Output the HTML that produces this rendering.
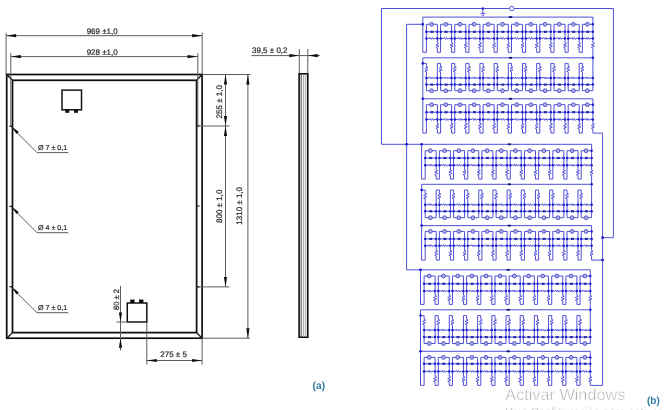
<!DOCTYPE html>
<html><head><meta charset="utf-8"><title>Figure</title>
<style>
html,body{margin:0;padding:0;background:#fff;}
body{width:665px;height:410px;overflow:hidden;font-family:"Liberation Sans",sans-serif;}
svg{display:block;font-family:"Liberation Sans",sans-serif;}
text{text-rendering:geometricPrecision;}
.d text{stroke:#2c2c2c;stroke-width:0.22px;}
</style></head><body>
<svg width="665" height="410" viewBox="0 0 665 410">
<defs><filter id="bl" x="0" y="0" width="665" height="410" filterUnits="userSpaceOnUse"><feGaussianBlur stdDeviation="0.45"/></filter><filter id="bl2" x="0" y="0" width="665" height="410" filterUnits="userSpaceOnUse"><feGaussianBlur stdDeviation="0.35"/></filter></defs>
<rect width="665" height="410" fill="#fff"/>
<g id="left" class="d" filter="url(#bl2)">
<rect x="6.7" y="74.5" width="195.4" height="263.7" fill="none" stroke="#0c0c0c" stroke-width="1.7"/>
<rect x="12.5" y="80.3" width="184.1" height="252.3" fill="none" stroke="#0c0c0c" stroke-width="1.7"/>
<line x1="6.7" y1="74.5" x2="12.5" y2="80.3" stroke="#0c0c0c" stroke-width="1.3"/>
<line x1="202.1" y1="74.5" x2="196.6" y2="80.3" stroke="#0c0c0c" stroke-width="1.3"/>
<line x1="6.7" y1="338.2" x2="12.5" y2="332.6" stroke="#0c0c0c" stroke-width="1.3"/>
<line x1="202.1" y1="338.2" x2="196.6" y2="332.6" stroke="#0c0c0c" stroke-width="1.3"/>
<line x1="6.1" y1="32.7" x2="6.1" y2="74.5" stroke="#5c5c5c" stroke-width="1"/>
<line x1="202.2" y1="32.7" x2="202.2" y2="74.5" stroke="#5c5c5c" stroke-width="1"/>
<line x1="6.1" y1="35.7" x2="202.2" y2="35.7" stroke="#5c5c5c" stroke-width="1"/>
<polygon points="6.1,35.7 16.1,34.1 16.1,37.3" fill="#111"/>
<polygon points="202.2,35.7 192.2,37.3 192.2,34.1" fill="#111"/>
<line x1="10.8" y1="53.2" x2="10.8" y2="126" stroke="#5c5c5c" stroke-width="1"/>
<line x1="197.8" y1="53.2" x2="197.8" y2="126" stroke="#5c5c5c" stroke-width="1"/>
<line x1="10.9" y1="56.6" x2="197.6" y2="56.6" stroke="#5c5c5c" stroke-width="1"/>
<polygon points="10.9,56.6 20.9,55 20.9,58.2" fill="#111"/>
<polygon points="197.6,56.6 187.6,58.2 187.6,55" fill="#111"/>
<text x="102.2" y="33.7" font-size="8" text-anchor="middle" fill="#2c2c2c" font-weight="normal">969 ±1,0</text>
<text x="102.2" y="54.5" font-size="8" text-anchor="middle" fill="#2c2c2c" font-weight="normal">928 ±1,0</text>
<line x1="202.2" y1="74.5" x2="250.3" y2="74.5" stroke="#5c5c5c" stroke-width="1"/>
<line x1="196.6" y1="126" x2="229.5" y2="126" stroke="#5c5c5c" stroke-width="1"/>
<line x1="196.6" y1="286.9" x2="229.5" y2="286.9" stroke="#5c5c5c" stroke-width="1"/>
<line x1="202.2" y1="338.2" x2="250" y2="338.2" stroke="#5c5c5c" stroke-width="1"/>
<line x1="225.5" y1="74.5" x2="225.5" y2="286.9" stroke="#5c5c5c" stroke-width="1"/>
<polygon points="225.5,74.5 227.1,84.5 223.9,84.5" fill="#111"/>
<polygon points="225.5,126 223.9,116 227.1,116" fill="#111"/>
<polygon points="225.5,126 227.1,136 223.9,136" fill="#111"/>
<polygon points="225.5,286.9 223.9,276.9 227.1,276.9" fill="#111"/>
<line x1="247.9" y1="74.5" x2="247.9" y2="338.2" stroke="#5c5c5c" stroke-width="1"/>
<polygon points="247.9,74.5 249.5,84.5 246.3,84.5" fill="#111"/>
<polygon points="247.9,338.2 246.3,328.2 249.5,328.2" fill="#111"/>
<text x="221.6" y="101.8" font-size="8" text-anchor="middle" fill="#2c2c2c" font-weight="normal" transform="rotate(-90 221.6 101.8)">255 ± 1,0</text>
<text x="222" y="206.3" font-size="8" text-anchor="middle" fill="#2c2c2c" font-weight="normal" transform="rotate(-90 222 206.3)">800 ± 1,0</text>
<text x="242.4" y="205.8" font-size="8" text-anchor="middle" fill="#2c2c2c" font-weight="normal" transform="rotate(-90 242.4 205.8)">1310 ± 1,0</text>
<rect x="299.1" y="73.8" width="8.7" height="263.4" fill="#f0f0f0" stroke="#0c0c0c" stroke-width="1.6"/>
<line x1="301.2" y1="74" x2="301.2" y2="337" stroke="#444" stroke-width="0.9"/>
<line x1="303.6" y1="74" x2="303.6" y2="337" stroke="#9a9a9a" stroke-width="0.8"/>
<line x1="305.8" y1="74" x2="305.8" y2="337" stroke="#9a9a9a" stroke-width="0.8"/>
<line x1="299.3" y1="49" x2="299.3" y2="73.5" stroke="#5c5c5c" stroke-width="1"/>
<line x1="307.8" y1="49" x2="307.8" y2="73.5" stroke="#5c5c5c" stroke-width="1"/>
<line x1="251.4" y1="55.6" x2="320.2" y2="55.6" stroke="#5c5c5c" stroke-width="1"/>
<polygon points="299.3,55.6 289.3,57.2 289.3,54" fill="#111"/>
<polygon points="307.8,55.6 317.8,54 317.8,57.2" fill="#111"/>
<text x="252" y="53.4" font-size="8" text-anchor="start" fill="#2c2c2c" font-weight="normal">39,5 ± 0,2</text>
<rect x="62" y="90.1" width="19.5" height="19.7" fill="#fff" stroke="#0c0c0c" stroke-width="1.45"/>
<rect x="65.3" y="109.8" width="3.9" height="3" fill="#0c0c0c"/>
<rect x="74.1" y="109.8" width="3.9" height="3" fill="#0c0c0c"/>
<rect x="127.3" y="303" width="19.5" height="19" fill="#fff" stroke="#0c0c0c" stroke-width="1.45"/>
<rect x="130.2" y="299.6" width="4.4" height="3.4" fill="#0c0c0c"/>
<rect x="139" y="299.6" width="4.4" height="3.4" fill="#0c0c0c"/>
<polyline points="10.7,126.2 37,152.6 68.3,152.6" fill="none" stroke="#5c5c5c" stroke-width="1"/>
<polygon points="11,126.2 18.77,131.87 16.64,133.99" fill="#111"/>
<line x1="9.2" y1="126.2" x2="12.5" y2="126.2" stroke="#0c0c0c" stroke-width="1"/>
<text x="38" y="149.6" font-size="7.1" text-anchor="start" fill="#2c2c2c" font-weight="normal">Ø 7 ± 0,1</text>
<polyline points="10.7,206.3 37,232.7 68.3,232.7" fill="none" stroke="#5c5c5c" stroke-width="1"/>
<polygon points="11,206.3 18.77,211.97 16.64,214.09" fill="#111"/>
<line x1="9.2" y1="206.3" x2="12.5" y2="206.3" stroke="#0c0c0c" stroke-width="1"/>
<text x="38" y="229.7" font-size="7.1" text-anchor="start" fill="#2c2c2c" font-weight="normal">Ø 4 ± 0,1</text>
<polyline points="10.7,286.7 37,312.7 68.3,312.7" fill="none" stroke="#5c5c5c" stroke-width="1"/>
<polygon points="11,286.7 18.81,292.31 16.7,294.45" fill="#111"/>
<line x1="9.2" y1="286.7" x2="12.5" y2="286.7" stroke="#0c0c0c" stroke-width="1"/>
<text x="38" y="310" font-size="7.1" text-anchor="start" fill="#2c2c2c" font-weight="normal">Ø 7 ± 0,1</text>
<line x1="196.6" y1="126" x2="199.5" y2="126" stroke="#0c0c0c" stroke-width="1"/>
<line x1="196.6" y1="206" x2="199.5" y2="206" stroke="#0c0c0c" stroke-width="1"/>
<line x1="196.6" y1="286.9" x2="199.5" y2="286.9" stroke="#0c0c0c" stroke-width="1"/>
<line x1="120.5" y1="285.9" x2="120.5" y2="350.2" stroke="#5c5c5c" stroke-width="1"/>
<polygon points="120.5,321.9 118.9,312.4 122.1,312.4" fill="#111"/>
<polygon points="120.5,338.3 122.1,347.8 118.9,347.8" fill="#111"/>
<line x1="116.6" y1="322" x2="127.3" y2="322" stroke="#5c5c5c" stroke-width="1"/>
<text x="118.5" y="299.5" font-size="7.6" text-anchor="middle" fill="#2c2c2c" font-weight="normal" transform="rotate(-90 118.5 299.5)">80 ± 2</text>
<line x1="146.8" y1="322" x2="146.8" y2="364.5" stroke="#5c5c5c" stroke-width="1"/>
<line x1="202.1" y1="338.2" x2="202.1" y2="364.5" stroke="#5c5c5c" stroke-width="1"/>
<line x1="146.8" y1="360.5" x2="202.1" y2="360.5" stroke="#5c5c5c" stroke-width="1"/>
<polygon points="146.8,360.5 156.8,358.9 156.8,362.1" fill="#111"/>
<polygon points="202.1,360.5 192.1,362.1 192.1,358.9" fill="#111"/>
<text x="173.6" y="357.3" font-size="8" text-anchor="middle" fill="#2c2c2c" font-weight="normal">275 ± 5</text>
<text x="312.6" y="389" font-size="10.5" text-anchor="start" fill="#2e7fa3" font-weight="bold" textLength="12.5" lengthAdjust="spacingAndGlyphs" style="stroke:none">(a)</text>
<text x="647" y="404.3" font-size="10.5" text-anchor="start" fill="#2e7fa3" font-weight="bold" textLength="12.8" lengthAdjust="spacingAndGlyphs" style="stroke:none">(b)</text>
<text x="505.3" y="400.3" font-size="16" text-anchor="start" fill="#a9a9b0" font-weight="normal" textLength="120" lengthAdjust="spacingAndGlyphs" style="stroke:#fff;stroke-width:0.5px">Activar Windows</text>
<text x="505.3" y="415.8" font-size="12" text-anchor="start" fill="#b0b0b6" font-weight="normal" textLength="208" lengthAdjust="spacingAndGlyphs" style="stroke:#fff;stroke-width:0.35px">Ve a Configuración para activar Windows.</text>
</g>
<g id="circuit" filter="url(#bl)">
<g fill="none" stroke="#5050d6" stroke-width="1" stroke-linejoin="miter">
<polyline points="422.8,17.1 592.9,17.1" />
<polyline points="422.8,17.1 422.8,52.3 426.4,52.3 426.4,24.3 437.4,24.3 437.4,42.9 438.9,43.57 435.9,44.92 438.9,46.27 435.9,47.62 437.4,48.3 437.4,52.3 440.58,52.3 440.58,24.3 451.58,24.3 451.58,42.9 453.08,43.57 450.08,44.92 453.08,46.27 450.08,47.62 451.58,48.3 451.58,52.3 454.76,52.3 454.76,24.3 465.76,24.3 465.76,42.9 467.26,43.57 464.26,44.92 467.26,46.27 464.26,47.62 465.76,48.3 465.76,52.3 468.94,52.3 468.94,24.3 479.94,24.3 479.94,42.9 481.44,43.57 478.44,44.92 481.44,46.27 478.44,47.62 479.94,48.3 479.94,52.3 483.12,52.3 483.12,24.3 494.12,24.3 494.12,42.9 495.62,43.57 492.62,44.92 495.62,46.27 492.62,47.62 494.12,48.3 494.12,52.3 497.3,52.3 497.3,24.3 508.3,24.3 508.3,42.9 509.8,43.57 506.8,44.92 509.8,46.27 506.8,47.62 508.3,48.3 508.3,52.3 511.48,52.3 511.48,24.3 522.48,24.3 522.48,42.9 523.98,43.57 520.98,44.92 523.98,46.27 520.98,47.62 522.48,48.3 522.48,52.3 525.66,52.3 525.66,24.3 536.66,24.3 536.66,42.9 538.16,43.57 535.16,44.92 538.16,46.27 535.16,47.62 536.66,48.3 536.66,52.3 539.84,52.3 539.84,24.3 550.84,24.3 550.84,42.9 552.34,43.57 549.34,44.92 552.34,46.27 549.34,47.62 550.84,48.3 550.84,52.3 554.02,52.3 554.02,24.3 565.02,24.3 565.02,42.9 566.52,43.57 563.52,44.92 566.52,46.27 563.52,47.62 565.02,48.3 565.02,52.3 568.2,52.3 568.2,24.3 579.2,24.3 579.2,42.9 580.7,43.57 577.7,44.92 580.7,46.27 577.7,47.62 579.2,48.3 579.2,52.3 582.38,52.3 582.38,24.3 592.9,24.3 592.9,42.9 594.4,43.57 591.4,44.92 594.4,46.27 591.4,47.62 592.9,48.3 592.9,52.3" />
<polyline points="426.4,31.8 437.4,31.8" />
<polyline points="426.4,38.4 429.6,38.4 430.18,37.4 431.33,39.4 432.48,37.4 433.62,39.4 434.2,38.4 437.4,38.4" />
<polyline points="440.58,31.8 451.58,31.8" />
<polyline points="440.58,38.4 443.78,38.4 444.36,37.4 445.51,39.4 446.66,37.4 447.81,39.4 448.38,38.4 451.58,38.4" />
<polyline points="454.76,31.8 465.76,31.8" />
<polyline points="454.76,38.4 457.96,38.4 458.54,37.4 459.69,39.4 460.84,37.4 461.99,39.4 462.56,38.4 465.76,38.4" />
<polyline points="468.94,31.8 479.94,31.8" />
<polyline points="468.94,38.4 472.14,38.4 472.72,37.4 473.87,39.4 475.02,37.4 476.17,39.4 476.74,38.4 479.94,38.4" />
<polyline points="483.12,31.8 494.12,31.8" />
<polyline points="483.12,38.4 486.32,38.4 486.89,37.4 488.05,39.4 489.19,37.4 490.34,39.4 490.92,38.4 494.12,38.4" />
<polyline points="497.3,31.8 508.3,31.8" />
<polyline points="497.3,38.4 500.5,38.4 501.08,37.4 502.23,39.4 503.38,37.4 504.53,39.4 505.1,38.4 508.3,38.4" />
<polyline points="511.48,31.8 522.48,31.8" />
<polyline points="511.48,38.4 514.68,38.4 515.26,37.4 516.41,39.4 517.56,37.4 518.71,39.4 519.28,38.4 522.48,38.4" />
<polyline points="525.66,31.8 536.66,31.8" />
<polyline points="525.66,38.4 528.86,38.4 529.44,37.4 530.59,39.4 531.74,37.4 532.89,39.4 533.46,38.4 536.66,38.4" />
<polyline points="539.84,31.8 550.84,31.8" />
<polyline points="539.84,38.4 543.04,38.4 543.62,37.4 544.77,39.4 545.92,37.4 547.07,39.4 547.64,38.4 550.84,38.4" />
<polyline points="554.02,31.8 565.02,31.8" />
<polyline points="554.02,38.4 557.22,38.4 557.8,37.4 558.95,39.4 560.1,37.4 561.25,39.4 561.82,38.4 565.02,38.4" />
<polyline points="568.2,31.8 579.2,31.8" />
<polyline points="568.2,38.4 571.4,38.4 571.98,37.4 573.13,39.4 574.28,37.4 575.43,39.4 576,38.4 579.2,38.4" />
<polyline points="582.38,31.8 592.9,31.8" />
<polyline points="582.38,38.4 585.34,38.4 585.92,37.4 587.07,39.4 588.22,37.4 589.37,39.4 589.94,38.4 592.9,38.4" />
<polyline points="422.8,57.8 592.9,57.8" />
<polyline points="422.8,63.4 426.4,63.4 426.4,66.4 427.9,67.07 424.9,68.42 427.9,69.77 424.9,71.12 426.4,71.8 426.4,90.7 437.4,90.7 437.4,63.4 440.58,63.4 440.58,66.4 442.08,67.07 439.08,68.42 442.08,69.77 439.08,71.12 440.58,71.8 440.58,90.7 451.58,90.7 451.58,63.4 454.76,63.4 454.76,66.4 456.26,67.07 453.26,68.42 456.26,69.77 453.26,71.12 454.76,71.8 454.76,90.7 465.76,90.7 465.76,63.4 468.94,63.4 468.94,66.4 470.44,67.07 467.44,68.42 470.44,69.77 467.44,71.12 468.94,71.8 468.94,90.7 479.94,90.7 479.94,63.4 483.12,63.4 483.12,66.4 484.62,67.07 481.62,68.42 484.62,69.77 481.62,71.12 483.12,71.8 483.12,90.7 494.12,90.7 494.12,63.4 497.3,63.4 497.3,66.4 498.8,67.07 495.8,68.42 498.8,69.77 495.8,71.12 497.3,71.8 497.3,90.7 508.3,90.7 508.3,63.4 511.48,63.4 511.48,66.4 512.98,67.07 509.98,68.42 512.98,69.77 509.98,71.12 511.48,71.8 511.48,90.7 522.48,90.7 522.48,63.4 525.66,63.4 525.66,66.4 527.16,67.07 524.16,68.42 527.16,69.77 524.16,71.12 525.66,71.8 525.66,90.7 536.66,90.7 536.66,63.4 539.84,63.4 539.84,66.4 541.34,67.07 538.34,68.42 541.34,69.77 538.34,71.12 539.84,71.8 539.84,90.7 550.84,90.7 550.84,63.4 554.02,63.4 554.02,66.4 555.52,67.07 552.52,68.42 555.52,69.77 552.52,71.12 554.02,71.8 554.02,90.7 565.02,90.7 565.02,63.4 568.2,63.4 568.2,66.4 569.7,67.07 566.7,68.42 569.7,69.77 566.7,71.12 568.2,71.8 568.2,90.7 579.2,90.7 579.2,63.4 582.38,63.4 582.38,66.4 583.88,67.07 580.88,68.42 583.88,69.77 580.88,71.12 582.38,71.8 582.38,90.7 592.9,90.7" />
<polyline points="426.4,84.6 437.4,84.6" />
<polyline points="426.4,77.9 429.6,77.9 430.18,76.9 431.33,78.9 432.48,76.9 433.62,78.9 434.2,77.9 437.4,77.9" />
<polyline points="440.58,84.6 451.58,84.6" />
<polyline points="440.58,77.9 443.78,77.9 444.36,76.9 445.51,78.9 446.66,76.9 447.81,78.9 448.38,77.9 451.58,77.9" />
<polyline points="454.76,84.6 465.76,84.6" />
<polyline points="454.76,77.9 457.96,77.9 458.54,76.9 459.69,78.9 460.84,76.9 461.99,78.9 462.56,77.9 465.76,77.9" />
<polyline points="468.94,84.6 479.94,84.6" />
<polyline points="468.94,77.9 472.14,77.9 472.72,76.9 473.87,78.9 475.02,76.9 476.17,78.9 476.74,77.9 479.94,77.9" />
<polyline points="483.12,84.6 494.12,84.6" />
<polyline points="483.12,77.9 486.32,77.9 486.89,76.9 488.05,78.9 489.19,76.9 490.34,78.9 490.92,77.9 494.12,77.9" />
<polyline points="497.3,84.6 508.3,84.6" />
<polyline points="497.3,77.9 500.5,77.9 501.08,76.9 502.23,78.9 503.38,76.9 504.53,78.9 505.1,77.9 508.3,77.9" />
<polyline points="511.48,84.6 522.48,84.6" />
<polyline points="511.48,77.9 514.68,77.9 515.26,76.9 516.41,78.9 517.56,76.9 518.71,78.9 519.28,77.9 522.48,77.9" />
<polyline points="525.66,84.6 536.66,84.6" />
<polyline points="525.66,77.9 528.86,77.9 529.44,76.9 530.59,78.9 531.74,76.9 532.89,78.9 533.46,77.9 536.66,77.9" />
<polyline points="539.84,84.6 550.84,84.6" />
<polyline points="539.84,77.9 543.04,77.9 543.62,76.9 544.77,78.9 545.92,76.9 547.07,78.9 547.64,77.9 550.84,77.9" />
<polyline points="554.02,84.6 565.02,84.6" />
<polyline points="554.02,77.9 557.22,77.9 557.8,76.9 558.95,78.9 560.1,76.9 561.25,78.9 561.82,77.9 565.02,77.9" />
<polyline points="568.2,84.6 579.2,84.6" />
<polyline points="568.2,77.9 571.4,77.9 571.98,76.9 573.13,78.9 574.28,76.9 575.43,78.9 576,77.9 579.2,77.9" />
<polyline points="582.38,84.6 592.9,84.6" />
<polyline points="582.38,77.9 585.34,77.9 585.92,76.9 587.07,78.9 588.22,76.9 589.37,78.9 589.94,77.9 592.9,77.9" />
<polyline points="422.8,98.8 592.9,98.8" />
<polyline points="422.8,98.8 422.8,133.1 426.4,133.1 426.4,104.7 437.4,104.7 437.4,123.5 438.9,124.17 435.9,125.53 438.9,126.88 435.9,128.22 437.4,128.9 437.4,133.1 440.58,133.1 440.58,104.7 451.58,104.7 451.58,123.5 453.08,124.17 450.08,125.53 453.08,126.88 450.08,128.22 451.58,128.9 451.58,133.1 454.76,133.1 454.76,104.7 465.76,104.7 465.76,123.5 467.26,124.17 464.26,125.53 467.26,126.88 464.26,128.22 465.76,128.9 465.76,133.1 468.94,133.1 468.94,104.7 479.94,104.7 479.94,123.5 481.44,124.17 478.44,125.53 481.44,126.88 478.44,128.22 479.94,128.9 479.94,133.1 483.12,133.1 483.12,104.7 494.12,104.7 494.12,123.5 495.62,124.17 492.62,125.53 495.62,126.88 492.62,128.22 494.12,128.9 494.12,133.1 497.3,133.1 497.3,104.7 508.3,104.7 508.3,123.5 509.8,124.17 506.8,125.53 509.8,126.88 506.8,128.22 508.3,128.9 508.3,133.1 511.48,133.1 511.48,104.7 522.48,104.7 522.48,123.5 523.98,124.17 520.98,125.53 523.98,126.88 520.98,128.22 522.48,128.9 522.48,133.1 525.66,133.1 525.66,104.7 536.66,104.7 536.66,123.5 538.16,124.17 535.16,125.53 538.16,126.88 535.16,128.22 536.66,128.9 536.66,133.1 539.84,133.1 539.84,104.7 550.84,104.7 550.84,123.5 552.34,124.17 549.34,125.53 552.34,126.88 549.34,128.22 550.84,128.9 550.84,133.1 554.02,133.1 554.02,104.7 565.02,104.7 565.02,123.5 566.52,124.17 563.52,125.53 566.52,126.88 563.52,128.22 565.02,128.9 565.02,133.1 568.2,133.1 568.2,104.7 579.2,104.7 579.2,123.5 580.7,124.17 577.7,125.53 580.7,126.88 577.7,128.22 579.2,128.9 579.2,133.1 582.38,133.1 582.38,104.7 592.9,104.7 592.9,123.5 594.4,124.17 591.4,125.53 594.4,126.88 591.4,128.22 592.9,128.9 592.9,133.1" />
<polyline points="426.4,112.2 437.4,112.2" />
<polyline points="426.4,119.4 429.6,119.4 430.18,118.4 431.33,120.4 432.48,118.4 433.62,120.4 434.2,119.4 437.4,119.4" />
<polyline points="440.58,112.2 451.58,112.2" />
<polyline points="440.58,119.4 443.78,119.4 444.36,118.4 445.51,120.4 446.66,118.4 447.81,120.4 448.38,119.4 451.58,119.4" />
<polyline points="454.76,112.2 465.76,112.2" />
<polyline points="454.76,119.4 457.96,119.4 458.54,118.4 459.69,120.4 460.84,118.4 461.99,120.4 462.56,119.4 465.76,119.4" />
<polyline points="468.94,112.2 479.94,112.2" />
<polyline points="468.94,119.4 472.14,119.4 472.72,118.4 473.87,120.4 475.02,118.4 476.17,120.4 476.74,119.4 479.94,119.4" />
<polyline points="483.12,112.2 494.12,112.2" />
<polyline points="483.12,119.4 486.32,119.4 486.89,118.4 488.05,120.4 489.19,118.4 490.34,120.4 490.92,119.4 494.12,119.4" />
<polyline points="497.3,112.2 508.3,112.2" />
<polyline points="497.3,119.4 500.5,119.4 501.08,118.4 502.23,120.4 503.38,118.4 504.53,120.4 505.1,119.4 508.3,119.4" />
<polyline points="511.48,112.2 522.48,112.2" />
<polyline points="511.48,119.4 514.68,119.4 515.26,118.4 516.41,120.4 517.56,118.4 518.71,120.4 519.28,119.4 522.48,119.4" />
<polyline points="525.66,112.2 536.66,112.2" />
<polyline points="525.66,119.4 528.86,119.4 529.44,118.4 530.59,120.4 531.74,118.4 532.89,120.4 533.46,119.4 536.66,119.4" />
<polyline points="539.84,112.2 550.84,112.2" />
<polyline points="539.84,119.4 543.04,119.4 543.62,118.4 544.77,120.4 545.92,118.4 547.07,120.4 547.64,119.4 550.84,119.4" />
<polyline points="554.02,112.2 565.02,112.2" />
<polyline points="554.02,119.4 557.22,119.4 557.8,118.4 558.95,120.4 560.1,118.4 561.25,120.4 561.82,119.4 565.02,119.4" />
<polyline points="568.2,112.2 579.2,112.2" />
<polyline points="568.2,119.4 571.4,119.4 571.98,118.4 573.13,120.4 574.28,118.4 575.43,120.4 576,119.4 579.2,119.4" />
<polyline points="582.38,112.2 592.9,112.2" />
<polyline points="582.38,119.4 585.34,119.4 585.92,118.4 587.07,120.4 588.22,118.4 589.37,120.4 589.94,119.4 592.9,119.4" />
<polyline points="422.8,57.8 422.8,98.8" />
<polyline points="592.9,17.1 592.9,24.3" />
<polyline points="592.9,52.3 592.9,90.7" />
<polyline points="592.9,98.8 592.9,104.7" />
<polyline points="421.6,144.3 591.6,144.3" />
<polyline points="421.6,144.3 421.6,179.1 425.2,179.1 425.2,150.7 436.2,150.7 436.2,170 437.7,170.68 434.7,172.03 437.7,173.38 434.7,174.72 436.2,175.4 436.2,179.1 439.38,179.1 439.38,150.7 450.38,150.7 450.38,170 451.88,170.68 448.88,172.03 451.88,173.38 448.88,174.72 450.38,175.4 450.38,179.1 453.56,179.1 453.56,150.7 464.56,150.7 464.56,170 466.06,170.68 463.06,172.03 466.06,173.38 463.06,174.72 464.56,175.4 464.56,179.1 467.74,179.1 467.74,150.7 478.74,150.7 478.74,170 480.24,170.68 477.24,172.03 480.24,173.38 477.24,174.72 478.74,175.4 478.74,179.1 481.92,179.1 481.92,150.7 492.92,150.7 492.92,170 494.42,170.68 491.42,172.03 494.42,173.38 491.42,174.72 492.92,175.4 492.92,179.1 496.1,179.1 496.1,150.7 507.1,150.7 507.1,170 508.6,170.68 505.6,172.03 508.6,173.38 505.6,174.72 507.1,175.4 507.1,179.1 510.28,179.1 510.28,150.7 521.28,150.7 521.28,170 522.78,170.68 519.78,172.03 522.78,173.38 519.78,174.72 521.28,175.4 521.28,179.1 524.46,179.1 524.46,150.7 535.46,150.7 535.46,170 536.96,170.68 533.96,172.03 536.96,173.38 533.96,174.72 535.46,175.4 535.46,179.1 538.64,179.1 538.64,150.7 549.64,150.7 549.64,170 551.14,170.68 548.14,172.03 551.14,173.38 548.14,174.72 549.64,175.4 549.64,179.1 552.82,179.1 552.82,150.7 563.82,150.7 563.82,170 565.32,170.68 562.32,172.03 565.32,173.38 562.32,174.72 563.82,175.4 563.82,179.1 567,179.1 567,150.7 578,150.7 578,170 579.5,170.68 576.5,172.03 579.5,173.38 576.5,174.72 578,175.4 578,179.1 581.18,179.1 581.18,150.7 591.6,150.7 591.6,170 593.1,170.68 590.1,172.03 593.1,173.38 590.1,174.72 591.6,175.4 591.6,179.1" />
<polyline points="425.2,158 436.2,158" />
<polyline points="425.2,165.2 428.4,165.2 428.98,164.2 430.13,166.2 431.28,164.2 432.43,166.2 433,165.2 436.2,165.2" />
<polyline points="439.38,158 450.38,158" />
<polyline points="439.38,165.2 442.58,165.2 443.16,164.2 444.31,166.2 445.46,164.2 446.61,166.2 447.18,165.2 450.38,165.2" />
<polyline points="453.56,158 464.56,158" />
<polyline points="453.56,165.2 456.76,165.2 457.34,164.2 458.49,166.2 459.64,164.2 460.79,166.2 461.36,165.2 464.56,165.2" />
<polyline points="467.74,158 478.74,158" />
<polyline points="467.74,165.2 470.94,165.2 471.52,164.2 472.67,166.2 473.82,164.2 474.97,166.2 475.54,165.2 478.74,165.2" />
<polyline points="481.92,158 492.92,158" />
<polyline points="481.92,165.2 485.12,165.2 485.7,164.2 486.85,166.2 488,164.2 489.15,166.2 489.72,165.2 492.92,165.2" />
<polyline points="496.1,158 507.1,158" />
<polyline points="496.1,165.2 499.3,165.2 499.88,164.2 501.03,166.2 502.18,164.2 503.32,166.2 503.9,165.2 507.1,165.2" />
<polyline points="510.28,158 521.28,158" />
<polyline points="510.28,165.2 513.48,165.2 514.06,164.2 515.21,166.2 516.36,164.2 517.5,166.2 518.08,165.2 521.28,165.2" />
<polyline points="524.46,158 535.46,158" />
<polyline points="524.46,165.2 527.66,165.2 528.24,164.2 529.39,166.2 530.54,164.2 531.69,166.2 532.26,165.2 535.46,165.2" />
<polyline points="538.64,158 549.64,158" />
<polyline points="538.64,165.2 541.84,165.2 542.42,164.2 543.57,166.2 544.72,164.2 545.87,166.2 546.44,165.2 549.64,165.2" />
<polyline points="552.82,158 563.82,158" />
<polyline points="552.82,165.2 556.02,165.2 556.6,164.2 557.75,166.2 558.9,164.2 560.05,166.2 560.62,165.2 563.82,165.2" />
<polyline points="567,158 578,158" />
<polyline points="567,165.2 570.2,165.2 570.78,164.2 571.93,166.2 573.08,164.2 574.23,166.2 574.8,165.2 578,165.2" />
<polyline points="581.18,158 591.6,158" />
<polyline points="581.18,165.2 584.09,165.2 584.67,164.2 585.82,166.2 586.97,164.2 588.12,166.2 588.69,165.2 591.6,165.2" />
<polyline points="421.6,184.3 591.6,184.3" />
<polyline points="421.6,190 425.2,190 425.2,193.4 426.7,194.08 423.7,195.43 426.7,196.78 423.7,198.12 425.2,198.8 425.2,217.7 436.2,217.7 436.2,190 439.38,190 439.38,193.4 440.88,194.08 437.88,195.43 440.88,196.78 437.88,198.12 439.38,198.8 439.38,217.7 450.38,217.7 450.38,190 453.56,190 453.56,193.4 455.06,194.08 452.06,195.43 455.06,196.78 452.06,198.12 453.56,198.8 453.56,217.7 464.56,217.7 464.56,190 467.74,190 467.74,193.4 469.24,194.08 466.24,195.43 469.24,196.78 466.24,198.12 467.74,198.8 467.74,217.7 478.74,217.7 478.74,190 481.92,190 481.92,193.4 483.42,194.08 480.42,195.43 483.42,196.78 480.42,198.12 481.92,198.8 481.92,217.7 492.92,217.7 492.92,190 496.1,190 496.1,193.4 497.6,194.08 494.6,195.43 497.6,196.78 494.6,198.12 496.1,198.8 496.1,217.7 507.1,217.7 507.1,190 510.28,190 510.28,193.4 511.78,194.08 508.78,195.43 511.78,196.78 508.78,198.12 510.28,198.8 510.28,217.7 521.28,217.7 521.28,190 524.46,190 524.46,193.4 525.96,194.08 522.96,195.43 525.96,196.78 522.96,198.12 524.46,198.8 524.46,217.7 535.46,217.7 535.46,190 538.64,190 538.64,193.4 540.14,194.08 537.14,195.43 540.14,196.78 537.14,198.12 538.64,198.8 538.64,217.7 549.64,217.7 549.64,190 552.82,190 552.82,193.4 554.32,194.08 551.32,195.43 554.32,196.78 551.32,198.12 552.82,198.8 552.82,217.7 563.82,217.7 563.82,190 567,190 567,193.4 568.5,194.08 565.5,195.43 568.5,196.78 565.5,198.12 567,198.8 567,217.7 578,217.7 578,190 581.18,190 581.18,193.4 582.68,194.08 579.68,195.43 582.68,196.78 579.68,198.12 581.18,198.8 581.18,217.7 591.6,217.7" />
<polyline points="425.2,211.3 436.2,211.3" />
<polyline points="425.2,204.7 428.4,204.7 428.98,203.7 430.13,205.7 431.28,203.7 432.43,205.7 433,204.7 436.2,204.7" />
<polyline points="439.38,211.3 450.38,211.3" />
<polyline points="439.38,204.7 442.58,204.7 443.16,203.7 444.31,205.7 445.46,203.7 446.61,205.7 447.18,204.7 450.38,204.7" />
<polyline points="453.56,211.3 464.56,211.3" />
<polyline points="453.56,204.7 456.76,204.7 457.34,203.7 458.49,205.7 459.64,203.7 460.79,205.7 461.36,204.7 464.56,204.7" />
<polyline points="467.74,211.3 478.74,211.3" />
<polyline points="467.74,204.7 470.94,204.7 471.52,203.7 472.67,205.7 473.82,203.7 474.97,205.7 475.54,204.7 478.74,204.7" />
<polyline points="481.92,211.3 492.92,211.3" />
<polyline points="481.92,204.7 485.12,204.7 485.7,203.7 486.85,205.7 488,203.7 489.15,205.7 489.72,204.7 492.92,204.7" />
<polyline points="496.1,211.3 507.1,211.3" />
<polyline points="496.1,204.7 499.3,204.7 499.88,203.7 501.03,205.7 502.18,203.7 503.32,205.7 503.9,204.7 507.1,204.7" />
<polyline points="510.28,211.3 521.28,211.3" />
<polyline points="510.28,204.7 513.48,204.7 514.06,203.7 515.21,205.7 516.36,203.7 517.5,205.7 518.08,204.7 521.28,204.7" />
<polyline points="524.46,211.3 535.46,211.3" />
<polyline points="524.46,204.7 527.66,204.7 528.24,203.7 529.39,205.7 530.54,203.7 531.69,205.7 532.26,204.7 535.46,204.7" />
<polyline points="538.64,211.3 549.64,211.3" />
<polyline points="538.64,204.7 541.84,204.7 542.42,203.7 543.57,205.7 544.72,203.7 545.87,205.7 546.44,204.7 549.64,204.7" />
<polyline points="552.82,211.3 563.82,211.3" />
<polyline points="552.82,204.7 556.02,204.7 556.6,203.7 557.75,205.7 558.9,203.7 560.05,205.7 560.62,204.7 563.82,204.7" />
<polyline points="567,211.3 578,211.3" />
<polyline points="567,204.7 570.2,204.7 570.78,203.7 571.93,205.7 573.08,203.7 574.23,205.7 574.8,204.7 578,204.7" />
<polyline points="581.18,211.3 591.6,211.3" />
<polyline points="581.18,204.7 584.09,204.7 584.67,203.7 585.82,205.7 586.97,203.7 588.12,205.7 588.69,204.7 591.6,204.7" />
<polyline points="421.6,225.6 591.6,225.6" />
<polyline points="421.6,225.6 421.6,260.1 425.2,260.1 425.2,231.4 436.2,231.4 436.2,250.5 437.7,251.18 434.7,252.53 437.7,253.88 434.7,255.22 436.2,255.9 436.2,260.1 439.38,260.1 439.38,231.4 450.38,231.4 450.38,250.5 451.88,251.18 448.88,252.53 451.88,253.88 448.88,255.22 450.38,255.9 450.38,260.1 453.56,260.1 453.56,231.4 464.56,231.4 464.56,250.5 466.06,251.18 463.06,252.53 466.06,253.88 463.06,255.22 464.56,255.9 464.56,260.1 467.74,260.1 467.74,231.4 478.74,231.4 478.74,250.5 480.24,251.18 477.24,252.53 480.24,253.88 477.24,255.22 478.74,255.9 478.74,260.1 481.92,260.1 481.92,231.4 492.92,231.4 492.92,250.5 494.42,251.18 491.42,252.53 494.42,253.88 491.42,255.22 492.92,255.9 492.92,260.1 496.1,260.1 496.1,231.4 507.1,231.4 507.1,250.5 508.6,251.18 505.6,252.53 508.6,253.88 505.6,255.22 507.1,255.9 507.1,260.1 510.28,260.1 510.28,231.4 521.28,231.4 521.28,250.5 522.78,251.18 519.78,252.53 522.78,253.88 519.78,255.22 521.28,255.9 521.28,260.1 524.46,260.1 524.46,231.4 535.46,231.4 535.46,250.5 536.96,251.18 533.96,252.53 536.96,253.88 533.96,255.22 535.46,255.9 535.46,260.1 538.64,260.1 538.64,231.4 549.64,231.4 549.64,250.5 551.14,251.18 548.14,252.53 551.14,253.88 548.14,255.22 549.64,255.9 549.64,260.1 552.82,260.1 552.82,231.4 563.82,231.4 563.82,250.5 565.32,251.18 562.32,252.53 565.32,253.88 562.32,255.22 563.82,255.9 563.82,260.1 567,260.1 567,231.4 578,231.4 578,250.5 579.5,251.18 576.5,252.53 579.5,253.88 576.5,255.22 578,255.9 578,260.1 581.18,260.1 581.18,231.4 591.6,231.4 591.6,250.5 593.1,251.18 590.1,252.53 593.1,253.88 590.1,255.22 591.6,255.9 591.6,260.1" />
<polyline points="425.2,238.9 436.2,238.9" />
<polyline points="425.2,245.7 428.4,245.7 428.98,244.7 430.13,246.7 431.28,244.7 432.43,246.7 433,245.7 436.2,245.7" />
<polyline points="439.38,238.9 450.38,238.9" />
<polyline points="439.38,245.7 442.58,245.7 443.16,244.7 444.31,246.7 445.46,244.7 446.61,246.7 447.18,245.7 450.38,245.7" />
<polyline points="453.56,238.9 464.56,238.9" />
<polyline points="453.56,245.7 456.76,245.7 457.34,244.7 458.49,246.7 459.64,244.7 460.79,246.7 461.36,245.7 464.56,245.7" />
<polyline points="467.74,238.9 478.74,238.9" />
<polyline points="467.74,245.7 470.94,245.7 471.52,244.7 472.67,246.7 473.82,244.7 474.97,246.7 475.54,245.7 478.74,245.7" />
<polyline points="481.92,238.9 492.92,238.9" />
<polyline points="481.92,245.7 485.12,245.7 485.7,244.7 486.85,246.7 488,244.7 489.15,246.7 489.72,245.7 492.92,245.7" />
<polyline points="496.1,238.9 507.1,238.9" />
<polyline points="496.1,245.7 499.3,245.7 499.88,244.7 501.03,246.7 502.18,244.7 503.32,246.7 503.9,245.7 507.1,245.7" />
<polyline points="510.28,238.9 521.28,238.9" />
<polyline points="510.28,245.7 513.48,245.7 514.06,244.7 515.21,246.7 516.36,244.7 517.5,246.7 518.08,245.7 521.28,245.7" />
<polyline points="524.46,238.9 535.46,238.9" />
<polyline points="524.46,245.7 527.66,245.7 528.24,244.7 529.39,246.7 530.54,244.7 531.69,246.7 532.26,245.7 535.46,245.7" />
<polyline points="538.64,238.9 549.64,238.9" />
<polyline points="538.64,245.7 541.84,245.7 542.42,244.7 543.57,246.7 544.72,244.7 545.87,246.7 546.44,245.7 549.64,245.7" />
<polyline points="552.82,238.9 563.82,238.9" />
<polyline points="552.82,245.7 556.02,245.7 556.6,244.7 557.75,246.7 558.9,244.7 560.05,246.7 560.62,245.7 563.82,245.7" />
<polyline points="567,238.9 578,238.9" />
<polyline points="567,245.7 570.2,245.7 570.78,244.7 571.93,246.7 573.08,244.7 574.23,246.7 574.8,245.7 578,245.7" />
<polyline points="581.18,238.9 591.6,238.9" />
<polyline points="581.18,245.7 584.09,245.7 584.67,244.7 585.82,246.7 586.97,244.7 588.12,246.7 588.69,245.7 591.6,245.7" />
<polyline points="421.6,184.3 421.6,225.6" />
<polyline points="591.6,144.3 591.6,150.7" />
<polyline points="591.6,179.1 591.6,217.7" />
<polyline points="591.6,225.6 591.6,231.4" />
<polyline points="420.5,269.8 590.3,269.8" />
<polyline points="420.5,269.8 420.5,304.4 424.1,304.4 424.1,276 435.1,276 435.1,295.5 436.6,296.18 433.6,297.52 436.6,298.88 433.6,300.23 435.1,300.9 435.1,304.4 438.28,304.4 438.28,276 449.28,276 449.28,295.5 450.78,296.18 447.78,297.52 450.78,298.88 447.78,300.23 449.28,300.9 449.28,304.4 452.46,304.4 452.46,276 463.46,276 463.46,295.5 464.96,296.18 461.96,297.52 464.96,298.88 461.96,300.23 463.46,300.9 463.46,304.4 466.64,304.4 466.64,276 477.64,276 477.64,295.5 479.14,296.18 476.14,297.52 479.14,298.88 476.14,300.23 477.64,300.9 477.64,304.4 480.82,304.4 480.82,276 491.82,276 491.82,295.5 493.32,296.18 490.32,297.52 493.32,298.88 490.32,300.23 491.82,300.9 491.82,304.4 495,304.4 495,276 506,276 506,295.5 507.5,296.18 504.5,297.52 507.5,298.88 504.5,300.23 506,300.9 506,304.4 509.18,304.4 509.18,276 520.18,276 520.18,295.5 521.68,296.18 518.68,297.52 521.68,298.88 518.68,300.23 520.18,300.9 520.18,304.4 523.36,304.4 523.36,276 534.36,276 534.36,295.5 535.86,296.18 532.86,297.52 535.86,298.88 532.86,300.23 534.36,300.9 534.36,304.4 537.54,304.4 537.54,276 548.54,276 548.54,295.5 550.04,296.18 547.04,297.52 550.04,298.88 547.04,300.23 548.54,300.9 548.54,304.4 551.72,304.4 551.72,276 562.72,276 562.72,295.5 564.22,296.18 561.22,297.52 564.22,298.88 561.22,300.23 562.72,300.9 562.72,304.4 565.9,304.4 565.9,276 576.9,276 576.9,295.5 578.4,296.18 575.4,297.52 578.4,298.88 575.4,300.23 576.9,300.9 576.9,304.4 580.08,304.4 580.08,276 590.3,276 590.3,295.5 591.8,296.18 588.8,297.52 591.8,298.88 588.8,300.23 590.3,300.9 590.3,304.4" />
<polyline points="424.1,283.8 435.1,283.8" />
<polyline points="424.1,291 427.3,291 427.88,290 429.03,292 430.18,290 431.32,292 431.9,291 435.1,291" />
<polyline points="438.28,283.8 449.28,283.8" />
<polyline points="438.28,291 441.48,291 442.06,290 443.21,292 444.36,290 445.5,292 446.08,291 449.28,291" />
<polyline points="452.46,283.8 463.46,283.8" />
<polyline points="452.46,291 455.66,291 456.24,290 457.39,292 458.54,290 459.69,292 460.26,291 463.46,291" />
<polyline points="466.64,283.8 477.64,283.8" />
<polyline points="466.64,291 469.84,291 470.42,290 471.57,292 472.72,290 473.87,292 474.44,291 477.64,291" />
<polyline points="480.82,283.8 491.82,283.8" />
<polyline points="480.82,291 484.02,291 484.6,290 485.75,292 486.9,290 488.05,292 488.62,291 491.82,291" />
<polyline points="495,283.8 506,283.8" />
<polyline points="495,291 498.2,291 498.77,290 499.93,292 501.07,290 502.22,292 502.8,291 506,291" />
<polyline points="509.18,283.8 520.18,283.8" />
<polyline points="509.18,291 512.38,291 512.96,290 514.11,292 515.26,290 516.41,292 516.98,291 520.18,291" />
<polyline points="523.36,283.8 534.36,283.8" />
<polyline points="523.36,291 526.56,291 527.14,290 528.29,292 529.44,290 530.59,292 531.16,291 534.36,291" />
<polyline points="537.54,283.8 548.54,283.8" />
<polyline points="537.54,291 540.74,291 541.32,290 542.47,292 543.62,290 544.76,292 545.34,291 548.54,291" />
<polyline points="551.72,283.8 562.72,283.8" />
<polyline points="551.72,291 554.92,291 555.5,290 556.65,292 557.8,290 558.95,292 559.52,291 562.72,291" />
<polyline points="565.9,283.8 576.9,283.8" />
<polyline points="565.9,291 569.1,291 569.68,290 570.83,292 571.98,290 573.13,292 573.7,291 576.9,291" />
<polyline points="580.08,283.8 590.3,283.8" />
<polyline points="580.08,291 582.89,291 583.47,290 584.62,292 585.77,290 586.92,292 587.49,291 590.3,291" />
<polyline points="420.5,309.8 590.3,309.8" />
<polyline points="420.5,315.6 424.1,315.6 424.1,319.4 425.6,320.08 422.6,321.43 425.6,322.78 422.6,324.13 424.1,324.8 424.1,343.5 435.1,343.5 435.1,315.6 438.28,315.6 438.28,319.4 439.78,320.08 436.78,321.43 439.78,322.78 436.78,324.13 438.28,324.8 438.28,343.5 449.28,343.5 449.28,315.6 452.46,315.6 452.46,319.4 453.96,320.08 450.96,321.43 453.96,322.78 450.96,324.13 452.46,324.8 452.46,343.5 463.46,343.5 463.46,315.6 466.64,315.6 466.64,319.4 468.14,320.08 465.14,321.43 468.14,322.78 465.14,324.13 466.64,324.8 466.64,343.5 477.64,343.5 477.64,315.6 480.82,315.6 480.82,319.4 482.32,320.08 479.32,321.43 482.32,322.78 479.32,324.13 480.82,324.8 480.82,343.5 491.82,343.5 491.82,315.6 495,315.6 495,319.4 496.5,320.08 493.5,321.43 496.5,322.78 493.5,324.13 495,324.8 495,343.5 506,343.5 506,315.6 509.18,315.6 509.18,319.4 510.68,320.08 507.68,321.43 510.68,322.78 507.68,324.13 509.18,324.8 509.18,343.5 520.18,343.5 520.18,315.6 523.36,315.6 523.36,319.4 524.86,320.08 521.86,321.43 524.86,322.78 521.86,324.13 523.36,324.8 523.36,343.5 534.36,343.5 534.36,315.6 537.54,315.6 537.54,319.4 539.04,320.08 536.04,321.43 539.04,322.78 536.04,324.13 537.54,324.8 537.54,343.5 548.54,343.5 548.54,315.6 551.72,315.6 551.72,319.4 553.22,320.08 550.22,321.43 553.22,322.78 550.22,324.13 551.72,324.8 551.72,343.5 562.72,343.5 562.72,315.6 565.9,315.6 565.9,319.4 567.4,320.08 564.4,321.43 567.4,322.78 564.4,324.13 565.9,324.8 565.9,343.5 576.9,343.5 576.9,315.6 580.08,315.6 580.08,319.4 581.58,320.08 578.58,321.43 581.58,322.78 578.58,324.13 580.08,324.8 580.08,343.5 590.3,343.5" />
<polyline points="424.1,337.1 435.1,337.1" />
<polyline points="424.1,330.1 427.3,330.1 427.88,329.1 429.03,331.1 430.18,329.1 431.32,331.1 431.9,330.1 435.1,330.1" />
<polyline points="438.28,337.1 449.28,337.1" />
<polyline points="438.28,330.1 441.48,330.1 442.06,329.1 443.21,331.1 444.36,329.1 445.5,331.1 446.08,330.1 449.28,330.1" />
<polyline points="452.46,337.1 463.46,337.1" />
<polyline points="452.46,330.1 455.66,330.1 456.24,329.1 457.39,331.1 458.54,329.1 459.69,331.1 460.26,330.1 463.46,330.1" />
<polyline points="466.64,337.1 477.64,337.1" />
<polyline points="466.64,330.1 469.84,330.1 470.42,329.1 471.57,331.1 472.72,329.1 473.87,331.1 474.44,330.1 477.64,330.1" />
<polyline points="480.82,337.1 491.82,337.1" />
<polyline points="480.82,330.1 484.02,330.1 484.6,329.1 485.75,331.1 486.9,329.1 488.05,331.1 488.62,330.1 491.82,330.1" />
<polyline points="495,337.1 506,337.1" />
<polyline points="495,330.1 498.2,330.1 498.77,329.1 499.93,331.1 501.07,329.1 502.22,331.1 502.8,330.1 506,330.1" />
<polyline points="509.18,337.1 520.18,337.1" />
<polyline points="509.18,330.1 512.38,330.1 512.96,329.1 514.11,331.1 515.26,329.1 516.41,331.1 516.98,330.1 520.18,330.1" />
<polyline points="523.36,337.1 534.36,337.1" />
<polyline points="523.36,330.1 526.56,330.1 527.14,329.1 528.29,331.1 529.44,329.1 530.59,331.1 531.16,330.1 534.36,330.1" />
<polyline points="537.54,337.1 548.54,337.1" />
<polyline points="537.54,330.1 540.74,330.1 541.32,329.1 542.47,331.1 543.62,329.1 544.76,331.1 545.34,330.1 548.54,330.1" />
<polyline points="551.72,337.1 562.72,337.1" />
<polyline points="551.72,330.1 554.92,330.1 555.5,329.1 556.65,331.1 557.8,329.1 558.95,331.1 559.52,330.1 562.72,330.1" />
<polyline points="565.9,337.1 576.9,337.1" />
<polyline points="565.9,330.1 569.1,330.1 569.68,329.1 570.83,331.1 571.98,329.1 573.13,331.1 573.7,330.1 576.9,330.1" />
<polyline points="580.08,337.1 590.3,337.1" />
<polyline points="580.08,330.1 582.89,330.1 583.47,329.1 584.62,331.1 585.77,329.1 586.92,331.1 587.49,330.1 590.3,330.1" />
<polyline points="420.5,351.3 590.3,351.3" />
<polyline points="420.5,351.3 420.5,385.4 424.1,385.4 424.1,357.4 435.1,357.4 435.1,376.5 436.6,377.18 433.6,378.52 436.6,379.88 433.6,381.23 435.1,381.9 435.1,385.4 438.28,385.4 438.28,357.4 449.28,357.4 449.28,376.5 450.78,377.18 447.78,378.52 450.78,379.88 447.78,381.23 449.28,381.9 449.28,385.4 452.46,385.4 452.46,357.4 463.46,357.4 463.46,376.5 464.96,377.18 461.96,378.52 464.96,379.88 461.96,381.23 463.46,381.9 463.46,385.4 466.64,385.4 466.64,357.4 477.64,357.4 477.64,376.5 479.14,377.18 476.14,378.52 479.14,379.88 476.14,381.23 477.64,381.9 477.64,385.4 480.82,385.4 480.82,357.4 491.82,357.4 491.82,376.5 493.32,377.18 490.32,378.52 493.32,379.88 490.32,381.23 491.82,381.9 491.82,385.4 495,385.4 495,357.4 506,357.4 506,376.5 507.5,377.18 504.5,378.52 507.5,379.88 504.5,381.23 506,381.9 506,385.4 509.18,385.4 509.18,357.4 520.18,357.4 520.18,376.5 521.68,377.18 518.68,378.52 521.68,379.88 518.68,381.23 520.18,381.9 520.18,385.4 523.36,385.4 523.36,357.4 534.36,357.4 534.36,376.5 535.86,377.18 532.86,378.52 535.86,379.88 532.86,381.23 534.36,381.9 534.36,385.4 537.54,385.4 537.54,357.4 548.54,357.4 548.54,376.5 550.04,377.18 547.04,378.52 550.04,379.88 547.04,381.23 548.54,381.9 548.54,385.4 551.72,385.4 551.72,357.4 562.72,357.4 562.72,376.5 564.22,377.18 561.22,378.52 564.22,379.88 561.22,381.23 562.72,381.9 562.72,385.4 565.9,385.4 565.9,357.4 576.9,357.4 576.9,376.5 578.4,377.18 575.4,378.52 578.4,379.88 575.4,381.23 576.9,381.9 576.9,385.4 580.08,385.4 580.08,357.4 590.3,357.4 590.3,376.5 591.8,377.18 588.8,378.52 591.8,379.88 588.8,381.23 590.3,381.9 590.3,385.4" />
<polyline points="424.1,363.8 435.1,363.8" />
<polyline points="424.1,371.4 427.3,371.4 427.88,370.4 429.03,372.4 430.18,370.4 431.32,372.4 431.9,371.4 435.1,371.4" />
<polyline points="438.28,363.8 449.28,363.8" />
<polyline points="438.28,371.4 441.48,371.4 442.06,370.4 443.21,372.4 444.36,370.4 445.5,372.4 446.08,371.4 449.28,371.4" />
<polyline points="452.46,363.8 463.46,363.8" />
<polyline points="452.46,371.4 455.66,371.4 456.24,370.4 457.39,372.4 458.54,370.4 459.69,372.4 460.26,371.4 463.46,371.4" />
<polyline points="466.64,363.8 477.64,363.8" />
<polyline points="466.64,371.4 469.84,371.4 470.42,370.4 471.57,372.4 472.72,370.4 473.87,372.4 474.44,371.4 477.64,371.4" />
<polyline points="480.82,363.8 491.82,363.8" />
<polyline points="480.82,371.4 484.02,371.4 484.6,370.4 485.75,372.4 486.9,370.4 488.05,372.4 488.62,371.4 491.82,371.4" />
<polyline points="495,363.8 506,363.8" />
<polyline points="495,371.4 498.2,371.4 498.77,370.4 499.93,372.4 501.07,370.4 502.22,372.4 502.8,371.4 506,371.4" />
<polyline points="509.18,363.8 520.18,363.8" />
<polyline points="509.18,371.4 512.38,371.4 512.96,370.4 514.11,372.4 515.26,370.4 516.41,372.4 516.98,371.4 520.18,371.4" />
<polyline points="523.36,363.8 534.36,363.8" />
<polyline points="523.36,371.4 526.56,371.4 527.14,370.4 528.29,372.4 529.44,370.4 530.59,372.4 531.16,371.4 534.36,371.4" />
<polyline points="537.54,363.8 548.54,363.8" />
<polyline points="537.54,371.4 540.74,371.4 541.32,370.4 542.47,372.4 543.62,370.4 544.76,372.4 545.34,371.4 548.54,371.4" />
<polyline points="551.72,363.8 562.72,363.8" />
<polyline points="551.72,371.4 554.92,371.4 555.5,370.4 556.65,372.4 557.8,370.4 558.95,372.4 559.52,371.4 562.72,371.4" />
<polyline points="565.9,363.8 576.9,363.8" />
<polyline points="565.9,371.4 569.1,371.4 569.68,370.4 570.83,372.4 571.98,370.4 573.13,372.4 573.7,371.4 576.9,371.4" />
<polyline points="580.08,363.8 590.3,363.8" />
<polyline points="580.08,371.4 582.89,371.4 583.47,370.4 584.62,372.4 585.77,370.4 586.92,372.4 587.49,371.4 590.3,371.4" />
<polyline points="420.5,309.8 420.5,351.3" />
<polyline points="590.3,269.8 590.3,276" />
<polyline points="590.3,304.4 590.3,343.5" />
<polyline points="590.3,351.3 590.3,357.4" />
<polyline points="381.5,144.3 381.5,8.5 613.4,8.5 613.4,237.7 602.6,237.7" />
<polyline points="381.5,144.3 421.6,144.3" />
<polyline points="422.8,24.3 406.6,24.3 406.6,269.8 420.5,269.8" />
<polyline points="592.9,133.1 602.6,133.1 602.6,385.4 590.3,385.4" />
<polyline points="591.6,260.1 602.6,260.1" />
<polyline points="482.8,8.5 482.8,13.4" />
<polyline points="480.6,13.4 485.2,13.4" />
<polyline points="481.6,15.2 484.2,15.2" />
</g>
<g fill="#b4b4d8" stroke="#5050d6" stroke-width="1">
<circle cx="431.6" cy="24.3" r="1.9"/>
<circle cx="445.78" cy="24.3" r="1.9"/>
<circle cx="459.96" cy="24.3" r="1.9"/>
<circle cx="474.14" cy="24.3" r="1.9"/>
<circle cx="488.32" cy="24.3" r="1.9"/>
<circle cx="502.5" cy="24.3" r="1.9"/>
<circle cx="516.68" cy="24.3" r="1.9"/>
<circle cx="530.86" cy="24.3" r="1.9"/>
<circle cx="545.04" cy="24.3" r="1.9"/>
<circle cx="559.22" cy="24.3" r="1.9"/>
<circle cx="573.4" cy="24.3" r="1.9"/>
<circle cx="587.34" cy="24.3" r="1.9"/>
<circle cx="431.6" cy="90.7" r="1.9"/>
<circle cx="445.78" cy="90.7" r="1.9"/>
<circle cx="459.96" cy="90.7" r="1.9"/>
<circle cx="474.14" cy="90.7" r="1.9"/>
<circle cx="488.32" cy="90.7" r="1.9"/>
<circle cx="502.5" cy="90.7" r="1.9"/>
<circle cx="516.68" cy="90.7" r="1.9"/>
<circle cx="530.86" cy="90.7" r="1.9"/>
<circle cx="545.04" cy="90.7" r="1.9"/>
<circle cx="559.22" cy="90.7" r="1.9"/>
<circle cx="573.4" cy="90.7" r="1.9"/>
<circle cx="587.34" cy="90.7" r="1.9"/>
<circle cx="431.6" cy="104.7" r="1.9"/>
<circle cx="445.78" cy="104.7" r="1.9"/>
<circle cx="459.96" cy="104.7" r="1.9"/>
<circle cx="474.14" cy="104.7" r="1.9"/>
<circle cx="488.32" cy="104.7" r="1.9"/>
<circle cx="502.5" cy="104.7" r="1.9"/>
<circle cx="516.68" cy="104.7" r="1.9"/>
<circle cx="530.86" cy="104.7" r="1.9"/>
<circle cx="545.04" cy="104.7" r="1.9"/>
<circle cx="559.22" cy="104.7" r="1.9"/>
<circle cx="573.4" cy="104.7" r="1.9"/>
<circle cx="587.34" cy="104.7" r="1.9"/>
<circle cx="430.4" cy="150.7" r="1.9"/>
<circle cx="444.58" cy="150.7" r="1.9"/>
<circle cx="458.76" cy="150.7" r="1.9"/>
<circle cx="472.94" cy="150.7" r="1.9"/>
<circle cx="487.12" cy="150.7" r="1.9"/>
<circle cx="501.3" cy="150.7" r="1.9"/>
<circle cx="515.48" cy="150.7" r="1.9"/>
<circle cx="529.66" cy="150.7" r="1.9"/>
<circle cx="543.84" cy="150.7" r="1.9"/>
<circle cx="558.02" cy="150.7" r="1.9"/>
<circle cx="572.2" cy="150.7" r="1.9"/>
<circle cx="586.09" cy="150.7" r="1.9"/>
<circle cx="430.4" cy="217.7" r="1.9"/>
<circle cx="444.58" cy="217.7" r="1.9"/>
<circle cx="458.76" cy="217.7" r="1.9"/>
<circle cx="472.94" cy="217.7" r="1.9"/>
<circle cx="487.12" cy="217.7" r="1.9"/>
<circle cx="501.3" cy="217.7" r="1.9"/>
<circle cx="515.48" cy="217.7" r="1.9"/>
<circle cx="529.66" cy="217.7" r="1.9"/>
<circle cx="543.84" cy="217.7" r="1.9"/>
<circle cx="558.02" cy="217.7" r="1.9"/>
<circle cx="572.2" cy="217.7" r="1.9"/>
<circle cx="586.09" cy="217.7" r="1.9"/>
<circle cx="430.4" cy="231.4" r="1.9"/>
<circle cx="444.58" cy="231.4" r="1.9"/>
<circle cx="458.76" cy="231.4" r="1.9"/>
<circle cx="472.94" cy="231.4" r="1.9"/>
<circle cx="487.12" cy="231.4" r="1.9"/>
<circle cx="501.3" cy="231.4" r="1.9"/>
<circle cx="515.48" cy="231.4" r="1.9"/>
<circle cx="529.66" cy="231.4" r="1.9"/>
<circle cx="543.84" cy="231.4" r="1.9"/>
<circle cx="558.02" cy="231.4" r="1.9"/>
<circle cx="572.2" cy="231.4" r="1.9"/>
<circle cx="586.09" cy="231.4" r="1.9"/>
<circle cx="429.3" cy="276" r="1.9"/>
<circle cx="443.48" cy="276" r="1.9"/>
<circle cx="457.66" cy="276" r="1.9"/>
<circle cx="471.84" cy="276" r="1.9"/>
<circle cx="486.02" cy="276" r="1.9"/>
<circle cx="500.2" cy="276" r="1.9"/>
<circle cx="514.38" cy="276" r="1.9"/>
<circle cx="528.56" cy="276" r="1.9"/>
<circle cx="542.74" cy="276" r="1.9"/>
<circle cx="556.92" cy="276" r="1.9"/>
<circle cx="571.1" cy="276" r="1.9"/>
<circle cx="584.89" cy="276" r="1.9"/>
<circle cx="429.3" cy="343.5" r="1.9"/>
<circle cx="443.48" cy="343.5" r="1.9"/>
<circle cx="457.66" cy="343.5" r="1.9"/>
<circle cx="471.84" cy="343.5" r="1.9"/>
<circle cx="486.02" cy="343.5" r="1.9"/>
<circle cx="500.2" cy="343.5" r="1.9"/>
<circle cx="514.38" cy="343.5" r="1.9"/>
<circle cx="528.56" cy="343.5" r="1.9"/>
<circle cx="542.74" cy="343.5" r="1.9"/>
<circle cx="556.92" cy="343.5" r="1.9"/>
<circle cx="571.1" cy="343.5" r="1.9"/>
<circle cx="584.89" cy="343.5" r="1.9"/>
<circle cx="429.3" cy="357.4" r="1.9"/>
<circle cx="443.48" cy="357.4" r="1.9"/>
<circle cx="457.66" cy="357.4" r="1.9"/>
<circle cx="471.84" cy="357.4" r="1.9"/>
<circle cx="486.02" cy="357.4" r="1.9"/>
<circle cx="500.2" cy="357.4" r="1.9"/>
<circle cx="514.38" cy="357.4" r="1.9"/>
<circle cx="528.56" cy="357.4" r="1.9"/>
<circle cx="542.74" cy="357.4" r="1.9"/>
<circle cx="556.92" cy="357.4" r="1.9"/>
<circle cx="571.1" cy="357.4" r="1.9"/>
<circle cx="584.89" cy="357.4" r="1.9"/>
<circle cx="511.8" cy="8.5" r="2.2" fill="#fff"/>
</g>
<g fill="#1c1ccc">
<circle cx="426.4" cy="31.8" r="1.25"/>
<circle cx="426.4" cy="38.4" r="1.25"/>
<circle cx="437.4" cy="31.8" r="1.25"/>
<circle cx="437.4" cy="38.4" r="1.25"/>
<circle cx="440.58" cy="31.8" r="1.25"/>
<circle cx="440.58" cy="38.4" r="1.25"/>
<circle cx="451.58" cy="31.8" r="1.25"/>
<circle cx="451.58" cy="38.4" r="1.25"/>
<circle cx="454.76" cy="31.8" r="1.25"/>
<circle cx="454.76" cy="38.4" r="1.25"/>
<circle cx="465.76" cy="31.8" r="1.25"/>
<circle cx="465.76" cy="38.4" r="1.25"/>
<circle cx="468.94" cy="31.8" r="1.25"/>
<circle cx="468.94" cy="38.4" r="1.25"/>
<circle cx="479.94" cy="31.8" r="1.25"/>
<circle cx="479.94" cy="38.4" r="1.25"/>
<circle cx="483.12" cy="31.8" r="1.25"/>
<circle cx="483.12" cy="38.4" r="1.25"/>
<circle cx="494.12" cy="31.8" r="1.25"/>
<circle cx="494.12" cy="38.4" r="1.25"/>
<circle cx="497.3" cy="31.8" r="1.25"/>
<circle cx="497.3" cy="38.4" r="1.25"/>
<circle cx="508.3" cy="31.8" r="1.25"/>
<circle cx="508.3" cy="38.4" r="1.25"/>
<circle cx="511.48" cy="31.8" r="1.25"/>
<circle cx="511.48" cy="38.4" r="1.25"/>
<circle cx="522.48" cy="31.8" r="1.25"/>
<circle cx="522.48" cy="38.4" r="1.25"/>
<circle cx="525.66" cy="31.8" r="1.25"/>
<circle cx="525.66" cy="38.4" r="1.25"/>
<circle cx="536.66" cy="31.8" r="1.25"/>
<circle cx="536.66" cy="38.4" r="1.25"/>
<circle cx="539.84" cy="31.8" r="1.25"/>
<circle cx="539.84" cy="38.4" r="1.25"/>
<circle cx="550.84" cy="31.8" r="1.25"/>
<circle cx="550.84" cy="38.4" r="1.25"/>
<circle cx="554.02" cy="31.8" r="1.25"/>
<circle cx="554.02" cy="38.4" r="1.25"/>
<circle cx="565.02" cy="31.8" r="1.25"/>
<circle cx="565.02" cy="38.4" r="1.25"/>
<circle cx="568.2" cy="31.8" r="1.25"/>
<circle cx="568.2" cy="38.4" r="1.25"/>
<circle cx="579.2" cy="31.8" r="1.25"/>
<circle cx="579.2" cy="38.4" r="1.25"/>
<circle cx="582.38" cy="31.8" r="1.25"/>
<circle cx="582.38" cy="38.4" r="1.25"/>
<circle cx="592.9" cy="31.8" r="1.25"/>
<circle cx="592.9" cy="38.4" r="1.25"/>
<circle cx="422.8" cy="63.4" r="1.3"/>
<circle cx="426.4" cy="84.6" r="1.25"/>
<circle cx="426.4" cy="77.9" r="1.25"/>
<circle cx="437.4" cy="84.6" r="1.25"/>
<circle cx="437.4" cy="77.9" r="1.25"/>
<circle cx="440.58" cy="84.6" r="1.25"/>
<circle cx="440.58" cy="77.9" r="1.25"/>
<circle cx="451.58" cy="84.6" r="1.25"/>
<circle cx="451.58" cy="77.9" r="1.25"/>
<circle cx="454.76" cy="84.6" r="1.25"/>
<circle cx="454.76" cy="77.9" r="1.25"/>
<circle cx="465.76" cy="84.6" r="1.25"/>
<circle cx="465.76" cy="77.9" r="1.25"/>
<circle cx="468.94" cy="84.6" r="1.25"/>
<circle cx="468.94" cy="77.9" r="1.25"/>
<circle cx="479.94" cy="84.6" r="1.25"/>
<circle cx="479.94" cy="77.9" r="1.25"/>
<circle cx="483.12" cy="84.6" r="1.25"/>
<circle cx="483.12" cy="77.9" r="1.25"/>
<circle cx="494.12" cy="84.6" r="1.25"/>
<circle cx="494.12" cy="77.9" r="1.25"/>
<circle cx="497.3" cy="84.6" r="1.25"/>
<circle cx="497.3" cy="77.9" r="1.25"/>
<circle cx="508.3" cy="84.6" r="1.25"/>
<circle cx="508.3" cy="77.9" r="1.25"/>
<circle cx="511.48" cy="84.6" r="1.25"/>
<circle cx="511.48" cy="77.9" r="1.25"/>
<circle cx="522.48" cy="84.6" r="1.25"/>
<circle cx="522.48" cy="77.9" r="1.25"/>
<circle cx="525.66" cy="84.6" r="1.25"/>
<circle cx="525.66" cy="77.9" r="1.25"/>
<circle cx="536.66" cy="84.6" r="1.25"/>
<circle cx="536.66" cy="77.9" r="1.25"/>
<circle cx="539.84" cy="84.6" r="1.25"/>
<circle cx="539.84" cy="77.9" r="1.25"/>
<circle cx="550.84" cy="84.6" r="1.25"/>
<circle cx="550.84" cy="77.9" r="1.25"/>
<circle cx="554.02" cy="84.6" r="1.25"/>
<circle cx="554.02" cy="77.9" r="1.25"/>
<circle cx="565.02" cy="84.6" r="1.25"/>
<circle cx="565.02" cy="77.9" r="1.25"/>
<circle cx="568.2" cy="84.6" r="1.25"/>
<circle cx="568.2" cy="77.9" r="1.25"/>
<circle cx="579.2" cy="84.6" r="1.25"/>
<circle cx="579.2" cy="77.9" r="1.25"/>
<circle cx="582.38" cy="84.6" r="1.25"/>
<circle cx="582.38" cy="77.9" r="1.25"/>
<circle cx="592.9" cy="84.6" r="1.25"/>
<circle cx="592.9" cy="77.9" r="1.25"/>
<circle cx="426.4" cy="112.2" r="1.25"/>
<circle cx="426.4" cy="119.4" r="1.25"/>
<circle cx="437.4" cy="112.2" r="1.25"/>
<circle cx="437.4" cy="119.4" r="1.25"/>
<circle cx="440.58" cy="112.2" r="1.25"/>
<circle cx="440.58" cy="119.4" r="1.25"/>
<circle cx="451.58" cy="112.2" r="1.25"/>
<circle cx="451.58" cy="119.4" r="1.25"/>
<circle cx="454.76" cy="112.2" r="1.25"/>
<circle cx="454.76" cy="119.4" r="1.25"/>
<circle cx="465.76" cy="112.2" r="1.25"/>
<circle cx="465.76" cy="119.4" r="1.25"/>
<circle cx="468.94" cy="112.2" r="1.25"/>
<circle cx="468.94" cy="119.4" r="1.25"/>
<circle cx="479.94" cy="112.2" r="1.25"/>
<circle cx="479.94" cy="119.4" r="1.25"/>
<circle cx="483.12" cy="112.2" r="1.25"/>
<circle cx="483.12" cy="119.4" r="1.25"/>
<circle cx="494.12" cy="112.2" r="1.25"/>
<circle cx="494.12" cy="119.4" r="1.25"/>
<circle cx="497.3" cy="112.2" r="1.25"/>
<circle cx="497.3" cy="119.4" r="1.25"/>
<circle cx="508.3" cy="112.2" r="1.25"/>
<circle cx="508.3" cy="119.4" r="1.25"/>
<circle cx="511.48" cy="112.2" r="1.25"/>
<circle cx="511.48" cy="119.4" r="1.25"/>
<circle cx="522.48" cy="112.2" r="1.25"/>
<circle cx="522.48" cy="119.4" r="1.25"/>
<circle cx="525.66" cy="112.2" r="1.25"/>
<circle cx="525.66" cy="119.4" r="1.25"/>
<circle cx="536.66" cy="112.2" r="1.25"/>
<circle cx="536.66" cy="119.4" r="1.25"/>
<circle cx="539.84" cy="112.2" r="1.25"/>
<circle cx="539.84" cy="119.4" r="1.25"/>
<circle cx="550.84" cy="112.2" r="1.25"/>
<circle cx="550.84" cy="119.4" r="1.25"/>
<circle cx="554.02" cy="112.2" r="1.25"/>
<circle cx="554.02" cy="119.4" r="1.25"/>
<circle cx="565.02" cy="112.2" r="1.25"/>
<circle cx="565.02" cy="119.4" r="1.25"/>
<circle cx="568.2" cy="112.2" r="1.25"/>
<circle cx="568.2" cy="119.4" r="1.25"/>
<circle cx="579.2" cy="112.2" r="1.25"/>
<circle cx="579.2" cy="119.4" r="1.25"/>
<circle cx="582.38" cy="112.2" r="1.25"/>
<circle cx="582.38" cy="119.4" r="1.25"/>
<circle cx="592.9" cy="112.2" r="1.25"/>
<circle cx="592.9" cy="119.4" r="1.25"/>
<circle cx="422.8" cy="98.8" r="1.3"/>
<circle cx="592.9" cy="57.8" r="1.3"/>
<circle cx="592.9" cy="24.3" r="1.2"/>
<circle cx="592.9" cy="104.7" r="1.2"/>
<circle cx="425.2" cy="158" r="1.25"/>
<circle cx="425.2" cy="165.2" r="1.25"/>
<circle cx="436.2" cy="158" r="1.25"/>
<circle cx="436.2" cy="165.2" r="1.25"/>
<circle cx="439.38" cy="158" r="1.25"/>
<circle cx="439.38" cy="165.2" r="1.25"/>
<circle cx="450.38" cy="158" r="1.25"/>
<circle cx="450.38" cy="165.2" r="1.25"/>
<circle cx="453.56" cy="158" r="1.25"/>
<circle cx="453.56" cy="165.2" r="1.25"/>
<circle cx="464.56" cy="158" r="1.25"/>
<circle cx="464.56" cy="165.2" r="1.25"/>
<circle cx="467.74" cy="158" r="1.25"/>
<circle cx="467.74" cy="165.2" r="1.25"/>
<circle cx="478.74" cy="158" r="1.25"/>
<circle cx="478.74" cy="165.2" r="1.25"/>
<circle cx="481.92" cy="158" r="1.25"/>
<circle cx="481.92" cy="165.2" r="1.25"/>
<circle cx="492.92" cy="158" r="1.25"/>
<circle cx="492.92" cy="165.2" r="1.25"/>
<circle cx="496.1" cy="158" r="1.25"/>
<circle cx="496.1" cy="165.2" r="1.25"/>
<circle cx="507.1" cy="158" r="1.25"/>
<circle cx="507.1" cy="165.2" r="1.25"/>
<circle cx="510.28" cy="158" r="1.25"/>
<circle cx="510.28" cy="165.2" r="1.25"/>
<circle cx="521.28" cy="158" r="1.25"/>
<circle cx="521.28" cy="165.2" r="1.25"/>
<circle cx="524.46" cy="158" r="1.25"/>
<circle cx="524.46" cy="165.2" r="1.25"/>
<circle cx="535.46" cy="158" r="1.25"/>
<circle cx="535.46" cy="165.2" r="1.25"/>
<circle cx="538.64" cy="158" r="1.25"/>
<circle cx="538.64" cy="165.2" r="1.25"/>
<circle cx="549.64" cy="158" r="1.25"/>
<circle cx="549.64" cy="165.2" r="1.25"/>
<circle cx="552.82" cy="158" r="1.25"/>
<circle cx="552.82" cy="165.2" r="1.25"/>
<circle cx="563.82" cy="158" r="1.25"/>
<circle cx="563.82" cy="165.2" r="1.25"/>
<circle cx="567" cy="158" r="1.25"/>
<circle cx="567" cy="165.2" r="1.25"/>
<circle cx="578" cy="158" r="1.25"/>
<circle cx="578" cy="165.2" r="1.25"/>
<circle cx="581.18" cy="158" r="1.25"/>
<circle cx="581.18" cy="165.2" r="1.25"/>
<circle cx="591.6" cy="158" r="1.25"/>
<circle cx="591.6" cy="165.2" r="1.25"/>
<circle cx="421.6" cy="190" r="1.3"/>
<circle cx="425.2" cy="211.3" r="1.25"/>
<circle cx="425.2" cy="204.7" r="1.25"/>
<circle cx="436.2" cy="211.3" r="1.25"/>
<circle cx="436.2" cy="204.7" r="1.25"/>
<circle cx="439.38" cy="211.3" r="1.25"/>
<circle cx="439.38" cy="204.7" r="1.25"/>
<circle cx="450.38" cy="211.3" r="1.25"/>
<circle cx="450.38" cy="204.7" r="1.25"/>
<circle cx="453.56" cy="211.3" r="1.25"/>
<circle cx="453.56" cy="204.7" r="1.25"/>
<circle cx="464.56" cy="211.3" r="1.25"/>
<circle cx="464.56" cy="204.7" r="1.25"/>
<circle cx="467.74" cy="211.3" r="1.25"/>
<circle cx="467.74" cy="204.7" r="1.25"/>
<circle cx="478.74" cy="211.3" r="1.25"/>
<circle cx="478.74" cy="204.7" r="1.25"/>
<circle cx="481.92" cy="211.3" r="1.25"/>
<circle cx="481.92" cy="204.7" r="1.25"/>
<circle cx="492.92" cy="211.3" r="1.25"/>
<circle cx="492.92" cy="204.7" r="1.25"/>
<circle cx="496.1" cy="211.3" r="1.25"/>
<circle cx="496.1" cy="204.7" r="1.25"/>
<circle cx="507.1" cy="211.3" r="1.25"/>
<circle cx="507.1" cy="204.7" r="1.25"/>
<circle cx="510.28" cy="211.3" r="1.25"/>
<circle cx="510.28" cy="204.7" r="1.25"/>
<circle cx="521.28" cy="211.3" r="1.25"/>
<circle cx="521.28" cy="204.7" r="1.25"/>
<circle cx="524.46" cy="211.3" r="1.25"/>
<circle cx="524.46" cy="204.7" r="1.25"/>
<circle cx="535.46" cy="211.3" r="1.25"/>
<circle cx="535.46" cy="204.7" r="1.25"/>
<circle cx="538.64" cy="211.3" r="1.25"/>
<circle cx="538.64" cy="204.7" r="1.25"/>
<circle cx="549.64" cy="211.3" r="1.25"/>
<circle cx="549.64" cy="204.7" r="1.25"/>
<circle cx="552.82" cy="211.3" r="1.25"/>
<circle cx="552.82" cy="204.7" r="1.25"/>
<circle cx="563.82" cy="211.3" r="1.25"/>
<circle cx="563.82" cy="204.7" r="1.25"/>
<circle cx="567" cy="211.3" r="1.25"/>
<circle cx="567" cy="204.7" r="1.25"/>
<circle cx="578" cy="211.3" r="1.25"/>
<circle cx="578" cy="204.7" r="1.25"/>
<circle cx="581.18" cy="211.3" r="1.25"/>
<circle cx="581.18" cy="204.7" r="1.25"/>
<circle cx="591.6" cy="211.3" r="1.25"/>
<circle cx="591.6" cy="204.7" r="1.25"/>
<circle cx="425.2" cy="238.9" r="1.25"/>
<circle cx="425.2" cy="245.7" r="1.25"/>
<circle cx="436.2" cy="238.9" r="1.25"/>
<circle cx="436.2" cy="245.7" r="1.25"/>
<circle cx="439.38" cy="238.9" r="1.25"/>
<circle cx="439.38" cy="245.7" r="1.25"/>
<circle cx="450.38" cy="238.9" r="1.25"/>
<circle cx="450.38" cy="245.7" r="1.25"/>
<circle cx="453.56" cy="238.9" r="1.25"/>
<circle cx="453.56" cy="245.7" r="1.25"/>
<circle cx="464.56" cy="238.9" r="1.25"/>
<circle cx="464.56" cy="245.7" r="1.25"/>
<circle cx="467.74" cy="238.9" r="1.25"/>
<circle cx="467.74" cy="245.7" r="1.25"/>
<circle cx="478.74" cy="238.9" r="1.25"/>
<circle cx="478.74" cy="245.7" r="1.25"/>
<circle cx="481.92" cy="238.9" r="1.25"/>
<circle cx="481.92" cy="245.7" r="1.25"/>
<circle cx="492.92" cy="238.9" r="1.25"/>
<circle cx="492.92" cy="245.7" r="1.25"/>
<circle cx="496.1" cy="238.9" r="1.25"/>
<circle cx="496.1" cy="245.7" r="1.25"/>
<circle cx="507.1" cy="238.9" r="1.25"/>
<circle cx="507.1" cy="245.7" r="1.25"/>
<circle cx="510.28" cy="238.9" r="1.25"/>
<circle cx="510.28" cy="245.7" r="1.25"/>
<circle cx="521.28" cy="238.9" r="1.25"/>
<circle cx="521.28" cy="245.7" r="1.25"/>
<circle cx="524.46" cy="238.9" r="1.25"/>
<circle cx="524.46" cy="245.7" r="1.25"/>
<circle cx="535.46" cy="238.9" r="1.25"/>
<circle cx="535.46" cy="245.7" r="1.25"/>
<circle cx="538.64" cy="238.9" r="1.25"/>
<circle cx="538.64" cy="245.7" r="1.25"/>
<circle cx="549.64" cy="238.9" r="1.25"/>
<circle cx="549.64" cy="245.7" r="1.25"/>
<circle cx="552.82" cy="238.9" r="1.25"/>
<circle cx="552.82" cy="245.7" r="1.25"/>
<circle cx="563.82" cy="238.9" r="1.25"/>
<circle cx="563.82" cy="245.7" r="1.25"/>
<circle cx="567" cy="238.9" r="1.25"/>
<circle cx="567" cy="245.7" r="1.25"/>
<circle cx="578" cy="238.9" r="1.25"/>
<circle cx="578" cy="245.7" r="1.25"/>
<circle cx="581.18" cy="238.9" r="1.25"/>
<circle cx="581.18" cy="245.7" r="1.25"/>
<circle cx="591.6" cy="238.9" r="1.25"/>
<circle cx="591.6" cy="245.7" r="1.25"/>
<circle cx="421.6" cy="225.6" r="1.3"/>
<circle cx="591.6" cy="184.3" r="1.3"/>
<circle cx="591.6" cy="150.7" r="1.2"/>
<circle cx="591.6" cy="231.4" r="1.2"/>
<circle cx="424.1" cy="283.8" r="1.25"/>
<circle cx="424.1" cy="291" r="1.25"/>
<circle cx="435.1" cy="283.8" r="1.25"/>
<circle cx="435.1" cy="291" r="1.25"/>
<circle cx="438.28" cy="283.8" r="1.25"/>
<circle cx="438.28" cy="291" r="1.25"/>
<circle cx="449.28" cy="283.8" r="1.25"/>
<circle cx="449.28" cy="291" r="1.25"/>
<circle cx="452.46" cy="283.8" r="1.25"/>
<circle cx="452.46" cy="291" r="1.25"/>
<circle cx="463.46" cy="283.8" r="1.25"/>
<circle cx="463.46" cy="291" r="1.25"/>
<circle cx="466.64" cy="283.8" r="1.25"/>
<circle cx="466.64" cy="291" r="1.25"/>
<circle cx="477.64" cy="283.8" r="1.25"/>
<circle cx="477.64" cy="291" r="1.25"/>
<circle cx="480.82" cy="283.8" r="1.25"/>
<circle cx="480.82" cy="291" r="1.25"/>
<circle cx="491.82" cy="283.8" r="1.25"/>
<circle cx="491.82" cy="291" r="1.25"/>
<circle cx="495" cy="283.8" r="1.25"/>
<circle cx="495" cy="291" r="1.25"/>
<circle cx="506" cy="283.8" r="1.25"/>
<circle cx="506" cy="291" r="1.25"/>
<circle cx="509.18" cy="283.8" r="1.25"/>
<circle cx="509.18" cy="291" r="1.25"/>
<circle cx="520.18" cy="283.8" r="1.25"/>
<circle cx="520.18" cy="291" r="1.25"/>
<circle cx="523.36" cy="283.8" r="1.25"/>
<circle cx="523.36" cy="291" r="1.25"/>
<circle cx="534.36" cy="283.8" r="1.25"/>
<circle cx="534.36" cy="291" r="1.25"/>
<circle cx="537.54" cy="283.8" r="1.25"/>
<circle cx="537.54" cy="291" r="1.25"/>
<circle cx="548.54" cy="283.8" r="1.25"/>
<circle cx="548.54" cy="291" r="1.25"/>
<circle cx="551.72" cy="283.8" r="1.25"/>
<circle cx="551.72" cy="291" r="1.25"/>
<circle cx="562.72" cy="283.8" r="1.25"/>
<circle cx="562.72" cy="291" r="1.25"/>
<circle cx="565.9" cy="283.8" r="1.25"/>
<circle cx="565.9" cy="291" r="1.25"/>
<circle cx="576.9" cy="283.8" r="1.25"/>
<circle cx="576.9" cy="291" r="1.25"/>
<circle cx="580.08" cy="283.8" r="1.25"/>
<circle cx="580.08" cy="291" r="1.25"/>
<circle cx="590.3" cy="283.8" r="1.25"/>
<circle cx="590.3" cy="291" r="1.25"/>
<circle cx="420.5" cy="315.6" r="1.3"/>
<circle cx="424.1" cy="337.1" r="1.25"/>
<circle cx="424.1" cy="330.1" r="1.25"/>
<circle cx="435.1" cy="337.1" r="1.25"/>
<circle cx="435.1" cy="330.1" r="1.25"/>
<circle cx="438.28" cy="337.1" r="1.25"/>
<circle cx="438.28" cy="330.1" r="1.25"/>
<circle cx="449.28" cy="337.1" r="1.25"/>
<circle cx="449.28" cy="330.1" r="1.25"/>
<circle cx="452.46" cy="337.1" r="1.25"/>
<circle cx="452.46" cy="330.1" r="1.25"/>
<circle cx="463.46" cy="337.1" r="1.25"/>
<circle cx="463.46" cy="330.1" r="1.25"/>
<circle cx="466.64" cy="337.1" r="1.25"/>
<circle cx="466.64" cy="330.1" r="1.25"/>
<circle cx="477.64" cy="337.1" r="1.25"/>
<circle cx="477.64" cy="330.1" r="1.25"/>
<circle cx="480.82" cy="337.1" r="1.25"/>
<circle cx="480.82" cy="330.1" r="1.25"/>
<circle cx="491.82" cy="337.1" r="1.25"/>
<circle cx="491.82" cy="330.1" r="1.25"/>
<circle cx="495" cy="337.1" r="1.25"/>
<circle cx="495" cy="330.1" r="1.25"/>
<circle cx="506" cy="337.1" r="1.25"/>
<circle cx="506" cy="330.1" r="1.25"/>
<circle cx="509.18" cy="337.1" r="1.25"/>
<circle cx="509.18" cy="330.1" r="1.25"/>
<circle cx="520.18" cy="337.1" r="1.25"/>
<circle cx="520.18" cy="330.1" r="1.25"/>
<circle cx="523.36" cy="337.1" r="1.25"/>
<circle cx="523.36" cy="330.1" r="1.25"/>
<circle cx="534.36" cy="337.1" r="1.25"/>
<circle cx="534.36" cy="330.1" r="1.25"/>
<circle cx="537.54" cy="337.1" r="1.25"/>
<circle cx="537.54" cy="330.1" r="1.25"/>
<circle cx="548.54" cy="337.1" r="1.25"/>
<circle cx="548.54" cy="330.1" r="1.25"/>
<circle cx="551.72" cy="337.1" r="1.25"/>
<circle cx="551.72" cy="330.1" r="1.25"/>
<circle cx="562.72" cy="337.1" r="1.25"/>
<circle cx="562.72" cy="330.1" r="1.25"/>
<circle cx="565.9" cy="337.1" r="1.25"/>
<circle cx="565.9" cy="330.1" r="1.25"/>
<circle cx="576.9" cy="337.1" r="1.25"/>
<circle cx="576.9" cy="330.1" r="1.25"/>
<circle cx="580.08" cy="337.1" r="1.25"/>
<circle cx="580.08" cy="330.1" r="1.25"/>
<circle cx="590.3" cy="337.1" r="1.25"/>
<circle cx="590.3" cy="330.1" r="1.25"/>
<circle cx="424.1" cy="363.8" r="1.25"/>
<circle cx="424.1" cy="371.4" r="1.25"/>
<circle cx="435.1" cy="363.8" r="1.25"/>
<circle cx="435.1" cy="371.4" r="1.25"/>
<circle cx="438.28" cy="363.8" r="1.25"/>
<circle cx="438.28" cy="371.4" r="1.25"/>
<circle cx="449.28" cy="363.8" r="1.25"/>
<circle cx="449.28" cy="371.4" r="1.25"/>
<circle cx="452.46" cy="363.8" r="1.25"/>
<circle cx="452.46" cy="371.4" r="1.25"/>
<circle cx="463.46" cy="363.8" r="1.25"/>
<circle cx="463.46" cy="371.4" r="1.25"/>
<circle cx="466.64" cy="363.8" r="1.25"/>
<circle cx="466.64" cy="371.4" r="1.25"/>
<circle cx="477.64" cy="363.8" r="1.25"/>
<circle cx="477.64" cy="371.4" r="1.25"/>
<circle cx="480.82" cy="363.8" r="1.25"/>
<circle cx="480.82" cy="371.4" r="1.25"/>
<circle cx="491.82" cy="363.8" r="1.25"/>
<circle cx="491.82" cy="371.4" r="1.25"/>
<circle cx="495" cy="363.8" r="1.25"/>
<circle cx="495" cy="371.4" r="1.25"/>
<circle cx="506" cy="363.8" r="1.25"/>
<circle cx="506" cy="371.4" r="1.25"/>
<circle cx="509.18" cy="363.8" r="1.25"/>
<circle cx="509.18" cy="371.4" r="1.25"/>
<circle cx="520.18" cy="363.8" r="1.25"/>
<circle cx="520.18" cy="371.4" r="1.25"/>
<circle cx="523.36" cy="363.8" r="1.25"/>
<circle cx="523.36" cy="371.4" r="1.25"/>
<circle cx="534.36" cy="363.8" r="1.25"/>
<circle cx="534.36" cy="371.4" r="1.25"/>
<circle cx="537.54" cy="363.8" r="1.25"/>
<circle cx="537.54" cy="371.4" r="1.25"/>
<circle cx="548.54" cy="363.8" r="1.25"/>
<circle cx="548.54" cy="371.4" r="1.25"/>
<circle cx="551.72" cy="363.8" r="1.25"/>
<circle cx="551.72" cy="371.4" r="1.25"/>
<circle cx="562.72" cy="363.8" r="1.25"/>
<circle cx="562.72" cy="371.4" r="1.25"/>
<circle cx="565.9" cy="363.8" r="1.25"/>
<circle cx="565.9" cy="371.4" r="1.25"/>
<circle cx="576.9" cy="363.8" r="1.25"/>
<circle cx="576.9" cy="371.4" r="1.25"/>
<circle cx="580.08" cy="363.8" r="1.25"/>
<circle cx="580.08" cy="371.4" r="1.25"/>
<circle cx="590.3" cy="363.8" r="1.25"/>
<circle cx="590.3" cy="371.4" r="1.25"/>
<circle cx="420.5" cy="351.3" r="1.3"/>
<circle cx="590.3" cy="309.8" r="1.3"/>
<circle cx="590.3" cy="276" r="1.2"/>
<circle cx="590.3" cy="357.4" r="1.2"/>
<circle cx="406.6" cy="144.3" r="1.4"/>
<circle cx="421.6" cy="144.3" r="1.4"/>
<circle cx="422.8" cy="24.3" r="1.4"/>
<circle cx="420.5" cy="269.8" r="1.4"/>
<circle cx="602.6" cy="237.7" r="1.4"/>
<circle cx="602.6" cy="260.1" r="1.4"/>
<circle cx="482.8" cy="8.5" r="1.2"/>
<rect x="430.4" y="30.7" width="3" height="2.2" fill="#2a2ab0"/>
<rect x="444.58" y="30.7" width="3" height="2.2" fill="#2a2ab0"/>
<rect x="458.76" y="30.7" width="3" height="2.2" fill="#2a2ab0"/>
<rect x="472.94" y="30.7" width="3" height="2.2" fill="#2a2ab0"/>
<rect x="487.12" y="30.7" width="3" height="2.2" fill="#2a2ab0"/>
<rect x="501.3" y="30.7" width="3" height="2.2" fill="#2a2ab0"/>
<rect x="515.48" y="30.7" width="3" height="2.2" fill="#2a2ab0"/>
<rect x="529.66" y="30.7" width="3" height="2.2" fill="#2a2ab0"/>
<rect x="543.84" y="30.7" width="3" height="2.2" fill="#2a2ab0"/>
<rect x="558.02" y="30.7" width="3" height="2.2" fill="#2a2ab0"/>
<rect x="572.2" y="30.7" width="3" height="2.2" fill="#2a2ab0"/>
<rect x="586.14" y="30.7" width="3" height="2.2" fill="#2a2ab0"/>
<rect x="508.9" y="16.2" width="3.2" height="1.8" fill="#15157a"/>
<rect x="430.4" y="83.5" width="3" height="2.2" fill="#2a2ab0"/>
<rect x="444.58" y="83.5" width="3" height="2.2" fill="#2a2ab0"/>
<rect x="458.76" y="83.5" width="3" height="2.2" fill="#2a2ab0"/>
<rect x="472.94" y="83.5" width="3" height="2.2" fill="#2a2ab0"/>
<rect x="487.12" y="83.5" width="3" height="2.2" fill="#2a2ab0"/>
<rect x="501.3" y="83.5" width="3" height="2.2" fill="#2a2ab0"/>
<rect x="515.48" y="83.5" width="3" height="2.2" fill="#2a2ab0"/>
<rect x="529.66" y="83.5" width="3" height="2.2" fill="#2a2ab0"/>
<rect x="543.84" y="83.5" width="3" height="2.2" fill="#2a2ab0"/>
<rect x="558.02" y="83.5" width="3" height="2.2" fill="#2a2ab0"/>
<rect x="572.2" y="83.5" width="3" height="2.2" fill="#2a2ab0"/>
<rect x="586.14" y="83.5" width="3" height="2.2" fill="#2a2ab0"/>
<rect x="508.9" y="56.9" width="3.2" height="1.8" fill="#15157a"/>
<rect x="430.4" y="111.1" width="3" height="2.2" fill="#2a2ab0"/>
<rect x="444.58" y="111.1" width="3" height="2.2" fill="#2a2ab0"/>
<rect x="458.76" y="111.1" width="3" height="2.2" fill="#2a2ab0"/>
<rect x="472.94" y="111.1" width="3" height="2.2" fill="#2a2ab0"/>
<rect x="487.12" y="111.1" width="3" height="2.2" fill="#2a2ab0"/>
<rect x="501.3" y="111.1" width="3" height="2.2" fill="#2a2ab0"/>
<rect x="515.48" y="111.1" width="3" height="2.2" fill="#2a2ab0"/>
<rect x="529.66" y="111.1" width="3" height="2.2" fill="#2a2ab0"/>
<rect x="543.84" y="111.1" width="3" height="2.2" fill="#2a2ab0"/>
<rect x="558.02" y="111.1" width="3" height="2.2" fill="#2a2ab0"/>
<rect x="572.2" y="111.1" width="3" height="2.2" fill="#2a2ab0"/>
<rect x="586.14" y="111.1" width="3" height="2.2" fill="#2a2ab0"/>
<rect x="508.9" y="97.9" width="3.2" height="1.8" fill="#15157a"/>
<rect x="429.2" y="156.9" width="3" height="2.2" fill="#2a2ab0"/>
<rect x="443.38" y="156.9" width="3" height="2.2" fill="#2a2ab0"/>
<rect x="457.56" y="156.9" width="3" height="2.2" fill="#2a2ab0"/>
<rect x="471.74" y="156.9" width="3" height="2.2" fill="#2a2ab0"/>
<rect x="485.92" y="156.9" width="3" height="2.2" fill="#2a2ab0"/>
<rect x="500.1" y="156.9" width="3" height="2.2" fill="#2a2ab0"/>
<rect x="514.28" y="156.9" width="3" height="2.2" fill="#2a2ab0"/>
<rect x="528.46" y="156.9" width="3" height="2.2" fill="#2a2ab0"/>
<rect x="542.64" y="156.9" width="3" height="2.2" fill="#2a2ab0"/>
<rect x="556.82" y="156.9" width="3" height="2.2" fill="#2a2ab0"/>
<rect x="571" y="156.9" width="3" height="2.2" fill="#2a2ab0"/>
<rect x="584.89" y="156.9" width="3" height="2.2" fill="#2a2ab0"/>
<rect x="507.8" y="143.4" width="3.2" height="1.8" fill="#15157a"/>
<rect x="429.2" y="210.2" width="3" height="2.2" fill="#2a2ab0"/>
<rect x="443.38" y="210.2" width="3" height="2.2" fill="#2a2ab0"/>
<rect x="457.56" y="210.2" width="3" height="2.2" fill="#2a2ab0"/>
<rect x="471.74" y="210.2" width="3" height="2.2" fill="#2a2ab0"/>
<rect x="485.92" y="210.2" width="3" height="2.2" fill="#2a2ab0"/>
<rect x="500.1" y="210.2" width="3" height="2.2" fill="#2a2ab0"/>
<rect x="514.28" y="210.2" width="3" height="2.2" fill="#2a2ab0"/>
<rect x="528.46" y="210.2" width="3" height="2.2" fill="#2a2ab0"/>
<rect x="542.64" y="210.2" width="3" height="2.2" fill="#2a2ab0"/>
<rect x="556.82" y="210.2" width="3" height="2.2" fill="#2a2ab0"/>
<rect x="571" y="210.2" width="3" height="2.2" fill="#2a2ab0"/>
<rect x="584.89" y="210.2" width="3" height="2.2" fill="#2a2ab0"/>
<rect x="507.8" y="183.4" width="3.2" height="1.8" fill="#15157a"/>
<rect x="429.2" y="237.8" width="3" height="2.2" fill="#2a2ab0"/>
<rect x="443.38" y="237.8" width="3" height="2.2" fill="#2a2ab0"/>
<rect x="457.56" y="237.8" width="3" height="2.2" fill="#2a2ab0"/>
<rect x="471.74" y="237.8" width="3" height="2.2" fill="#2a2ab0"/>
<rect x="485.92" y="237.8" width="3" height="2.2" fill="#2a2ab0"/>
<rect x="500.1" y="237.8" width="3" height="2.2" fill="#2a2ab0"/>
<rect x="514.28" y="237.8" width="3" height="2.2" fill="#2a2ab0"/>
<rect x="528.46" y="237.8" width="3" height="2.2" fill="#2a2ab0"/>
<rect x="542.64" y="237.8" width="3" height="2.2" fill="#2a2ab0"/>
<rect x="556.82" y="237.8" width="3" height="2.2" fill="#2a2ab0"/>
<rect x="571" y="237.8" width="3" height="2.2" fill="#2a2ab0"/>
<rect x="584.89" y="237.8" width="3" height="2.2" fill="#2a2ab0"/>
<rect x="507.8" y="224.7" width="3.2" height="1.8" fill="#15157a"/>
<rect x="428.1" y="282.7" width="3" height="2.2" fill="#2a2ab0"/>
<rect x="442.28" y="282.7" width="3" height="2.2" fill="#2a2ab0"/>
<rect x="456.46" y="282.7" width="3" height="2.2" fill="#2a2ab0"/>
<rect x="470.64" y="282.7" width="3" height="2.2" fill="#2a2ab0"/>
<rect x="484.82" y="282.7" width="3" height="2.2" fill="#2a2ab0"/>
<rect x="499" y="282.7" width="3" height="2.2" fill="#2a2ab0"/>
<rect x="513.18" y="282.7" width="3" height="2.2" fill="#2a2ab0"/>
<rect x="527.36" y="282.7" width="3" height="2.2" fill="#2a2ab0"/>
<rect x="541.54" y="282.7" width="3" height="2.2" fill="#2a2ab0"/>
<rect x="555.72" y="282.7" width="3" height="2.2" fill="#2a2ab0"/>
<rect x="569.9" y="282.7" width="3" height="2.2" fill="#2a2ab0"/>
<rect x="583.69" y="282.7" width="3" height="2.2" fill="#2a2ab0"/>
<rect x="506.6" y="268.9" width="3.2" height="1.8" fill="#15157a"/>
<rect x="428.1" y="336" width="3" height="2.2" fill="#2a2ab0"/>
<rect x="442.28" y="336" width="3" height="2.2" fill="#2a2ab0"/>
<rect x="456.46" y="336" width="3" height="2.2" fill="#2a2ab0"/>
<rect x="470.64" y="336" width="3" height="2.2" fill="#2a2ab0"/>
<rect x="484.82" y="336" width="3" height="2.2" fill="#2a2ab0"/>
<rect x="499" y="336" width="3" height="2.2" fill="#2a2ab0"/>
<rect x="513.18" y="336" width="3" height="2.2" fill="#2a2ab0"/>
<rect x="527.36" y="336" width="3" height="2.2" fill="#2a2ab0"/>
<rect x="541.54" y="336" width="3" height="2.2" fill="#2a2ab0"/>
<rect x="555.72" y="336" width="3" height="2.2" fill="#2a2ab0"/>
<rect x="569.9" y="336" width="3" height="2.2" fill="#2a2ab0"/>
<rect x="583.69" y="336" width="3" height="2.2" fill="#2a2ab0"/>
<rect x="506.6" y="308.9" width="3.2" height="1.8" fill="#15157a"/>
<rect x="428.1" y="362.7" width="3" height="2.2" fill="#2a2ab0"/>
<rect x="442.28" y="362.7" width="3" height="2.2" fill="#2a2ab0"/>
<rect x="456.46" y="362.7" width="3" height="2.2" fill="#2a2ab0"/>
<rect x="470.64" y="362.7" width="3" height="2.2" fill="#2a2ab0"/>
<rect x="484.82" y="362.7" width="3" height="2.2" fill="#2a2ab0"/>
<rect x="499" y="362.7" width="3" height="2.2" fill="#2a2ab0"/>
<rect x="513.18" y="362.7" width="3" height="2.2" fill="#2a2ab0"/>
<rect x="527.36" y="362.7" width="3" height="2.2" fill="#2a2ab0"/>
<rect x="541.54" y="362.7" width="3" height="2.2" fill="#2a2ab0"/>
<rect x="555.72" y="362.7" width="3" height="2.2" fill="#2a2ab0"/>
<rect x="569.9" y="362.7" width="3" height="2.2" fill="#2a2ab0"/>
<rect x="583.69" y="362.7" width="3" height="2.2" fill="#2a2ab0"/>
<rect x="506.6" y="350.4" width="3.2" height="1.8" fill="#15157a"/>
</g>
</g>
</svg>
</body></html>
